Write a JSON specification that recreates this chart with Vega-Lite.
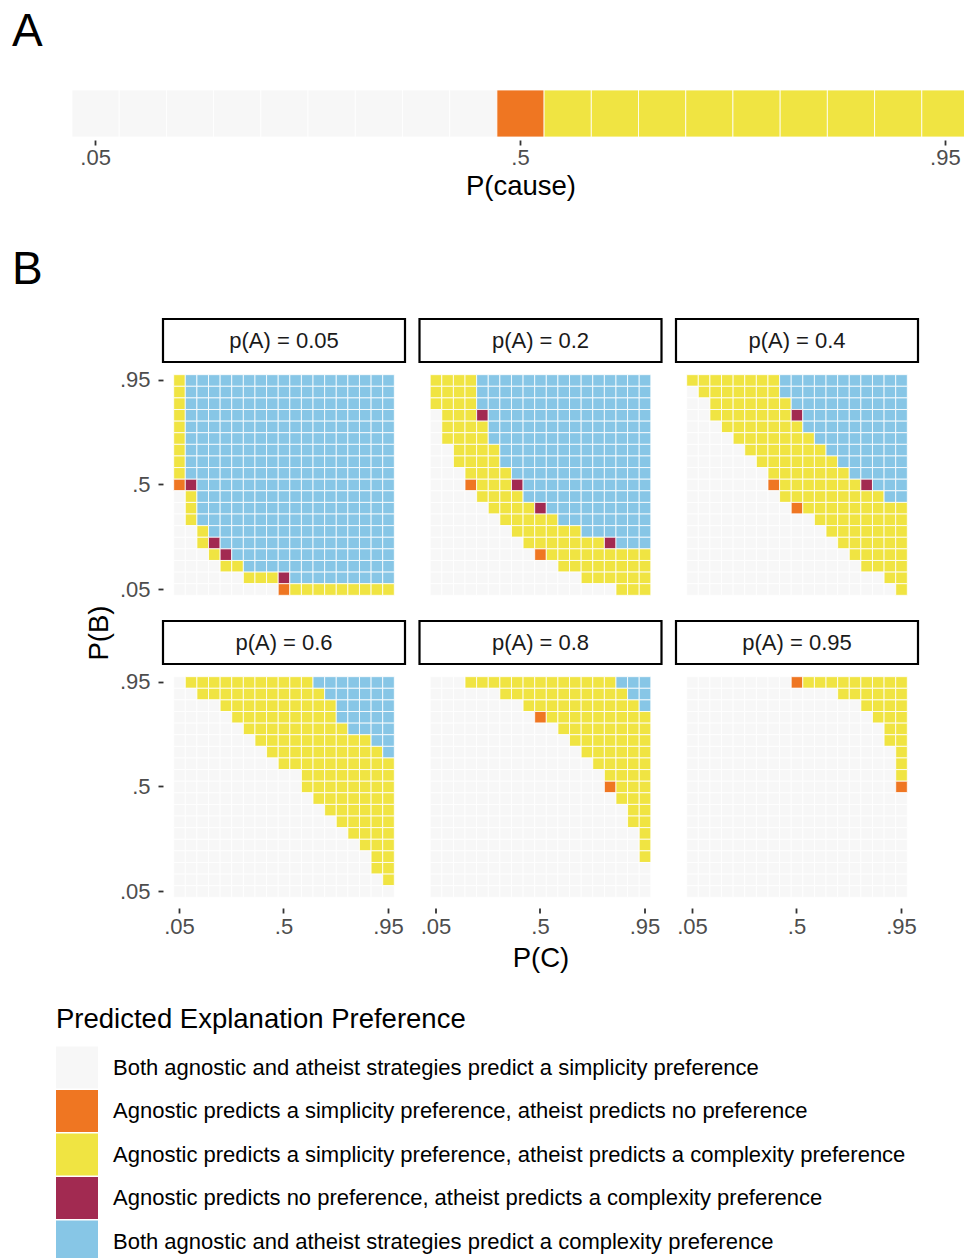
{
"$schema":"https://vega.github.io/schema/vega-lite/v6.json",
"padding":{"left":12,"top":8,"right":0,"bottom":0},
"background":"white",
"spacing":46,
"config":{
"font":"Liberation Sans",
"view":{"stroke":null},
"axis":{"labelFontSize":22,"labelColor":"#4D4D4D","tickColor":"#333333","tickWidth":1.8,"tickSize":5,"domain":false,"grid":false,"titleFontSize":27.5,"titleFontWeight":"normal","titleColor":"black","labelAngle":0},
"legend":{"symbolType":"square","symbolSize":1764,"symbolStrokeColor":"white","symbolStrokeWidth":0,"rowPadding":1.5,"labelFontSize":22,"labelColor":"black","labelOffset":15,"labelLimit":0,"titleFontSize":27.5,"titleFontWeight":"normal","titleColor":"black","titlePadding":13,"titleLimit":0}
},
"datasets":{
"pA":[{"P":0.05,"k":"G"},{"P":0.1,"k":"G"},{"P":0.15,"k":"G"},{"P":0.2,"k":"G"},{"P":0.25,"k":"G"},{"P":0.3,"k":"G"},{"P":0.35,"k":"G"},{"P":0.4,"k":"G"},{"P":0.45,"k":"G"},{"P":0.5,"k":"O"},{"P":0.55,"k":"Y"},{"P":0.6,"k":"Y"},{"P":0.65,"k":"Y"},{"P":0.7,"k":"Y"},{"P":0.75,"k":"Y"},{"P":0.8,"k":"Y"},{"P":0.85,"k":"Y"},{"P":0.9,"k":"Y"},{"P":0.95,"k":"Y"}],
"h05":[
{"B":0.95,"C":0.05,"k":"Y"},{"B":0.95,"C":0.1,"k":"B"},{"B":0.95,"C":0.15,"k":"B"},{"B":0.95,"C":0.2,"k":"B"},{"B":0.95,"C":0.25,"k":"B"},{"B":0.95,"C":0.3,"k":"B"},{"B":0.95,"C":0.35,"k":"B"},{"B":0.95,"C":0.4,"k":"B"},{"B":0.95,"C":0.45,"k":"B"},{"B":0.95,"C":0.5,"k":"B"},{"B":0.95,"C":0.55,"k":"B"},{"B":0.95,"C":0.6,"k":"B"},{"B":0.95,"C":0.65,"k":"B"},{"B":0.95,"C":0.7,"k":"B"},{"B":0.95,"C":0.75,"k":"B"},{"B":0.95,"C":0.8,"k":"B"},{"B":0.95,"C":0.85,"k":"B"},{"B":0.95,"C":0.9,"k":"B"},{"B":0.95,"C":0.95,"k":"B"},
{"B":0.9,"C":0.05,"k":"Y"},{"B":0.9,"C":0.1,"k":"B"},{"B":0.9,"C":0.15,"k":"B"},{"B":0.9,"C":0.2,"k":"B"},{"B":0.9,"C":0.25,"k":"B"},{"B":0.9,"C":0.3,"k":"B"},{"B":0.9,"C":0.35,"k":"B"},{"B":0.9,"C":0.4,"k":"B"},{"B":0.9,"C":0.45,"k":"B"},{"B":0.9,"C":0.5,"k":"B"},{"B":0.9,"C":0.55,"k":"B"},{"B":0.9,"C":0.6,"k":"B"},{"B":0.9,"C":0.65,"k":"B"},{"B":0.9,"C":0.7,"k":"B"},{"B":0.9,"C":0.75,"k":"B"},{"B":0.9,"C":0.8,"k":"B"},{"B":0.9,"C":0.85,"k":"B"},{"B":0.9,"C":0.9,"k":"B"},{"B":0.9,"C":0.95,"k":"B"},
{"B":0.85,"C":0.05,"k":"Y"},{"B":0.85,"C":0.1,"k":"B"},{"B":0.85,"C":0.15,"k":"B"},{"B":0.85,"C":0.2,"k":"B"},{"B":0.85,"C":0.25,"k":"B"},{"B":0.85,"C":0.3,"k":"B"},{"B":0.85,"C":0.35,"k":"B"},{"B":0.85,"C":0.4,"k":"B"},{"B":0.85,"C":0.45,"k":"B"},{"B":0.85,"C":0.5,"k":"B"},{"B":0.85,"C":0.55,"k":"B"},{"B":0.85,"C":0.6,"k":"B"},{"B":0.85,"C":0.65,"k":"B"},{"B":0.85,"C":0.7,"k":"B"},{"B":0.85,"C":0.75,"k":"B"},{"B":0.85,"C":0.8,"k":"B"},{"B":0.85,"C":0.85,"k":"B"},{"B":0.85,"C":0.9,"k":"B"},{"B":0.85,"C":0.95,"k":"B"},
{"B":0.8,"C":0.05,"k":"Y"},{"B":0.8,"C":0.1,"k":"B"},{"B":0.8,"C":0.15,"k":"B"},{"B":0.8,"C":0.2,"k":"B"},{"B":0.8,"C":0.25,"k":"B"},{"B":0.8,"C":0.3,"k":"B"},{"B":0.8,"C":0.35,"k":"B"},{"B":0.8,"C":0.4,"k":"B"},{"B":0.8,"C":0.45,"k":"B"},{"B":0.8,"C":0.5,"k":"B"},{"B":0.8,"C":0.55,"k":"B"},{"B":0.8,"C":0.6,"k":"B"},{"B":0.8,"C":0.65,"k":"B"},{"B":0.8,"C":0.7,"k":"B"},{"B":0.8,"C":0.75,"k":"B"},{"B":0.8,"C":0.8,"k":"B"},{"B":0.8,"C":0.85,"k":"B"},{"B":0.8,"C":0.9,"k":"B"},{"B":0.8,"C":0.95,"k":"B"},
{"B":0.75,"C":0.05,"k":"Y"},{"B":0.75,"C":0.1,"k":"B"},{"B":0.75,"C":0.15,"k":"B"},{"B":0.75,"C":0.2,"k":"B"},{"B":0.75,"C":0.25,"k":"B"},{"B":0.75,"C":0.3,"k":"B"},{"B":0.75,"C":0.35,"k":"B"},{"B":0.75,"C":0.4,"k":"B"},{"B":0.75,"C":0.45,"k":"B"},{"B":0.75,"C":0.5,"k":"B"},{"B":0.75,"C":0.55,"k":"B"},{"B":0.75,"C":0.6,"k":"B"},{"B":0.75,"C":0.65,"k":"B"},{"B":0.75,"C":0.7,"k":"B"},{"B":0.75,"C":0.75,"k":"B"},{"B":0.75,"C":0.8,"k":"B"},{"B":0.75,"C":0.85,"k":"B"},{"B":0.75,"C":0.9,"k":"B"},{"B":0.75,"C":0.95,"k":"B"},
{"B":0.7,"C":0.05,"k":"Y"},{"B":0.7,"C":0.1,"k":"B"},{"B":0.7,"C":0.15,"k":"B"},{"B":0.7,"C":0.2,"k":"B"},{"B":0.7,"C":0.25,"k":"B"},{"B":0.7,"C":0.3,"k":"B"},{"B":0.7,"C":0.35,"k":"B"},{"B":0.7,"C":0.4,"k":"B"},{"B":0.7,"C":0.45,"k":"B"},{"B":0.7,"C":0.5,"k":"B"},{"B":0.7,"C":0.55,"k":"B"},{"B":0.7,"C":0.6,"k":"B"},{"B":0.7,"C":0.65,"k":"B"},{"B":0.7,"C":0.7,"k":"B"},{"B":0.7,"C":0.75,"k":"B"},{"B":0.7,"C":0.8,"k":"B"},{"B":0.7,"C":0.85,"k":"B"},{"B":0.7,"C":0.9,"k":"B"},{"B":0.7,"C":0.95,"k":"B"},
{"B":0.65,"C":0.05,"k":"Y"},{"B":0.65,"C":0.1,"k":"B"},{"B":0.65,"C":0.15,"k":"B"},{"B":0.65,"C":0.2,"k":"B"},{"B":0.65,"C":0.25,"k":"B"},{"B":0.65,"C":0.3,"k":"B"},{"B":0.65,"C":0.35,"k":"B"},{"B":0.65,"C":0.4,"k":"B"},{"B":0.65,"C":0.45,"k":"B"},{"B":0.65,"C":0.5,"k":"B"},{"B":0.65,"C":0.55,"k":"B"},{"B":0.65,"C":0.6,"k":"B"},{"B":0.65,"C":0.65,"k":"B"},{"B":0.65,"C":0.7,"k":"B"},{"B":0.65,"C":0.75,"k":"B"},{"B":0.65,"C":0.8,"k":"B"},{"B":0.65,"C":0.85,"k":"B"},{"B":0.65,"C":0.9,"k":"B"},{"B":0.65,"C":0.95,"k":"B"},
{"B":0.6,"C":0.05,"k":"Y"},{"B":0.6,"C":0.1,"k":"B"},{"B":0.6,"C":0.15,"k":"B"},{"B":0.6,"C":0.2,"k":"B"},{"B":0.6,"C":0.25,"k":"B"},{"B":0.6,"C":0.3,"k":"B"},{"B":0.6,"C":0.35,"k":"B"},{"B":0.6,"C":0.4,"k":"B"},{"B":0.6,"C":0.45,"k":"B"},{"B":0.6,"C":0.5,"k":"B"},{"B":0.6,"C":0.55,"k":"B"},{"B":0.6,"C":0.6,"k":"B"},{"B":0.6,"C":0.65,"k":"B"},{"B":0.6,"C":0.7,"k":"B"},{"B":0.6,"C":0.75,"k":"B"},{"B":0.6,"C":0.8,"k":"B"},{"B":0.6,"C":0.85,"k":"B"},{"B":0.6,"C":0.9,"k":"B"},{"B":0.6,"C":0.95,"k":"B"},
{"B":0.55,"C":0.05,"k":"Y"},{"B":0.55,"C":0.1,"k":"B"},{"B":0.55,"C":0.15,"k":"B"},{"B":0.55,"C":0.2,"k":"B"},{"B":0.55,"C":0.25,"k":"B"},{"B":0.55,"C":0.3,"k":"B"},{"B":0.55,"C":0.35,"k":"B"},{"B":0.55,"C":0.4,"k":"B"},{"B":0.55,"C":0.45,"k":"B"},{"B":0.55,"C":0.5,"k":"B"},{"B":0.55,"C":0.55,"k":"B"},{"B":0.55,"C":0.6,"k":"B"},{"B":0.55,"C":0.65,"k":"B"},{"B":0.55,"C":0.7,"k":"B"},{"B":0.55,"C":0.75,"k":"B"},{"B":0.55,"C":0.8,"k":"B"},{"B":0.55,"C":0.85,"k":"B"},{"B":0.55,"C":0.9,"k":"B"},{"B":0.55,"C":0.95,"k":"B"},
{"B":0.5,"C":0.05,"k":"O"},{"B":0.5,"C":0.1,"k":"M"},{"B":0.5,"C":0.15,"k":"B"},{"B":0.5,"C":0.2,"k":"B"},{"B":0.5,"C":0.25,"k":"B"},{"B":0.5,"C":0.3,"k":"B"},{"B":0.5,"C":0.35,"k":"B"},{"B":0.5,"C":0.4,"k":"B"},{"B":0.5,"C":0.45,"k":"B"},{"B":0.5,"C":0.5,"k":"B"},{"B":0.5,"C":0.55,"k":"B"},{"B":0.5,"C":0.6,"k":"B"},{"B":0.5,"C":0.65,"k":"B"},{"B":0.5,"C":0.7,"k":"B"},{"B":0.5,"C":0.75,"k":"B"},{"B":0.5,"C":0.8,"k":"B"},{"B":0.5,"C":0.85,"k":"B"},{"B":0.5,"C":0.9,"k":"B"},{"B":0.5,"C":0.95,"k":"B"},
{"B":0.45,"C":0.05,"k":"G"},{"B":0.45,"C":0.1,"k":"Y"},{"B":0.45,"C":0.15,"k":"B"},{"B":0.45,"C":0.2,"k":"B"},{"B":0.45,"C":0.25,"k":"B"},{"B":0.45,"C":0.3,"k":"B"},{"B":0.45,"C":0.35,"k":"B"},{"B":0.45,"C":0.4,"k":"B"},{"B":0.45,"C":0.45,"k":"B"},{"B":0.45,"C":0.5,"k":"B"},{"B":0.45,"C":0.55,"k":"B"},{"B":0.45,"C":0.6,"k":"B"},{"B":0.45,"C":0.65,"k":"B"},{"B":0.45,"C":0.7,"k":"B"},{"B":0.45,"C":0.75,"k":"B"},{"B":0.45,"C":0.8,"k":"B"},{"B":0.45,"C":0.85,"k":"B"},{"B":0.45,"C":0.9,"k":"B"},{"B":0.45,"C":0.95,"k":"B"},
{"B":0.4,"C":0.05,"k":"G"},{"B":0.4,"C":0.1,"k":"Y"},{"B":0.4,"C":0.15,"k":"B"},{"B":0.4,"C":0.2,"k":"B"},{"B":0.4,"C":0.25,"k":"B"},{"B":0.4,"C":0.3,"k":"B"},{"B":0.4,"C":0.35,"k":"B"},{"B":0.4,"C":0.4,"k":"B"},{"B":0.4,"C":0.45,"k":"B"},{"B":0.4,"C":0.5,"k":"B"},{"B":0.4,"C":0.55,"k":"B"},{"B":0.4,"C":0.6,"k":"B"},{"B":0.4,"C":0.65,"k":"B"},{"B":0.4,"C":0.7,"k":"B"},{"B":0.4,"C":0.75,"k":"B"},{"B":0.4,"C":0.8,"k":"B"},{"B":0.4,"C":0.85,"k":"B"},{"B":0.4,"C":0.9,"k":"B"},{"B":0.4,"C":0.95,"k":"B"},
{"B":0.35,"C":0.05,"k":"G"},{"B":0.35,"C":0.1,"k":"Y"},{"B":0.35,"C":0.15,"k":"B"},{"B":0.35,"C":0.2,"k":"B"},{"B":0.35,"C":0.25,"k":"B"},{"B":0.35,"C":0.3,"k":"B"},{"B":0.35,"C":0.35,"k":"B"},{"B":0.35,"C":0.4,"k":"B"},{"B":0.35,"C":0.45,"k":"B"},{"B":0.35,"C":0.5,"k":"B"},{"B":0.35,"C":0.55,"k":"B"},{"B":0.35,"C":0.6,"k":"B"},{"B":0.35,"C":0.65,"k":"B"},{"B":0.35,"C":0.7,"k":"B"},{"B":0.35,"C":0.75,"k":"B"},{"B":0.35,"C":0.8,"k":"B"},{"B":0.35,"C":0.85,"k":"B"},{"B":0.35,"C":0.9,"k":"B"},{"B":0.35,"C":0.95,"k":"B"},
{"B":0.3,"C":0.05,"k":"G"},{"B":0.3,"C":0.1,"k":"G"},{"B":0.3,"C":0.15,"k":"Y"},{"B":0.3,"C":0.2,"k":"B"},{"B":0.3,"C":0.25,"k":"B"},{"B":0.3,"C":0.3,"k":"B"},{"B":0.3,"C":0.35,"k":"B"},{"B":0.3,"C":0.4,"k":"B"},{"B":0.3,"C":0.45,"k":"B"},{"B":0.3,"C":0.5,"k":"B"},{"B":0.3,"C":0.55,"k":"B"},{"B":0.3,"C":0.6,"k":"B"},{"B":0.3,"C":0.65,"k":"B"},{"B":0.3,"C":0.7,"k":"B"},{"B":0.3,"C":0.75,"k":"B"},{"B":0.3,"C":0.8,"k":"B"},{"B":0.3,"C":0.85,"k":"B"},{"B":0.3,"C":0.9,"k":"B"},{"B":0.3,"C":0.95,"k":"B"},
{"B":0.25,"C":0.05,"k":"G"},{"B":0.25,"C":0.1,"k":"G"},{"B":0.25,"C":0.15,"k":"Y"},{"B":0.25,"C":0.2,"k":"M"},{"B":0.25,"C":0.25,"k":"B"},{"B":0.25,"C":0.3,"k":"B"},{"B":0.25,"C":0.35,"k":"B"},{"B":0.25,"C":0.4,"k":"B"},{"B":0.25,"C":0.45,"k":"B"},{"B":0.25,"C":0.5,"k":"B"},{"B":0.25,"C":0.55,"k":"B"},{"B":0.25,"C":0.6,"k":"B"},{"B":0.25,"C":0.65,"k":"B"},{"B":0.25,"C":0.7,"k":"B"},{"B":0.25,"C":0.75,"k":"B"},{"B":0.25,"C":0.8,"k":"B"},{"B":0.25,"C":0.85,"k":"B"},{"B":0.25,"C":0.9,"k":"B"},{"B":0.25,"C":0.95,"k":"B"},
{"B":0.2,"C":0.05,"k":"G"},{"B":0.2,"C":0.1,"k":"G"},{"B":0.2,"C":0.15,"k":"G"},{"B":0.2,"C":0.2,"k":"Y"},{"B":0.2,"C":0.25,"k":"M"},{"B":0.2,"C":0.3,"k":"B"},{"B":0.2,"C":0.35,"k":"B"},{"B":0.2,"C":0.4,"k":"B"},{"B":0.2,"C":0.45,"k":"B"},{"B":0.2,"C":0.5,"k":"B"},{"B":0.2,"C":0.55,"k":"B"},{"B":0.2,"C":0.6,"k":"B"},{"B":0.2,"C":0.65,"k":"B"},{"B":0.2,"C":0.7,"k":"B"},{"B":0.2,"C":0.75,"k":"B"},{"B":0.2,"C":0.8,"k":"B"},{"B":0.2,"C":0.85,"k":"B"},{"B":0.2,"C":0.9,"k":"B"},{"B":0.2,"C":0.95,"k":"B"},
{"B":0.15,"C":0.05,"k":"G"},{"B":0.15,"C":0.1,"k":"G"},{"B":0.15,"C":0.15,"k":"G"},{"B":0.15,"C":0.2,"k":"G"},{"B":0.15,"C":0.25,"k":"Y"},{"B":0.15,"C":0.3,"k":"Y"},{"B":0.15,"C":0.35,"k":"B"},{"B":0.15,"C":0.4,"k":"B"},{"B":0.15,"C":0.45,"k":"B"},{"B":0.15,"C":0.5,"k":"B"},{"B":0.15,"C":0.55,"k":"B"},{"B":0.15,"C":0.6,"k":"B"},{"B":0.15,"C":0.65,"k":"B"},{"B":0.15,"C":0.7,"k":"B"},{"B":0.15,"C":0.75,"k":"B"},{"B":0.15,"C":0.8,"k":"B"},{"B":0.15,"C":0.85,"k":"B"},{"B":0.15,"C":0.9,"k":"B"},{"B":0.15,"C":0.95,"k":"B"},
{"B":0.1,"C":0.05,"k":"G"},{"B":0.1,"C":0.1,"k":"G"},{"B":0.1,"C":0.15,"k":"G"},{"B":0.1,"C":0.2,"k":"G"},{"B":0.1,"C":0.25,"k":"G"},{"B":0.1,"C":0.3,"k":"G"},{"B":0.1,"C":0.35,"k":"Y"},{"B":0.1,"C":0.4,"k":"Y"},{"B":0.1,"C":0.45,"k":"Y"},{"B":0.1,"C":0.5,"k":"M"},{"B":0.1,"C":0.55,"k":"B"},{"B":0.1,"C":0.6,"k":"B"},{"B":0.1,"C":0.65,"k":"B"},{"B":0.1,"C":0.7,"k":"B"},{"B":0.1,"C":0.75,"k":"B"},{"B":0.1,"C":0.8,"k":"B"},{"B":0.1,"C":0.85,"k":"B"},{"B":0.1,"C":0.9,"k":"B"},{"B":0.1,"C":0.95,"k":"B"},
{"B":0.05,"C":0.05,"k":"G"},{"B":0.05,"C":0.1,"k":"G"},{"B":0.05,"C":0.15,"k":"G"},{"B":0.05,"C":0.2,"k":"G"},{"B":0.05,"C":0.25,"k":"G"},{"B":0.05,"C":0.3,"k":"G"},{"B":0.05,"C":0.35,"k":"G"},{"B":0.05,"C":0.4,"k":"G"},{"B":0.05,"C":0.45,"k":"G"},{"B":0.05,"C":0.5,"k":"O"},{"B":0.05,"C":0.55,"k":"Y"},{"B":0.05,"C":0.6,"k":"Y"},{"B":0.05,"C":0.65,"k":"Y"},{"B":0.05,"C":0.7,"k":"Y"},{"B":0.05,"C":0.75,"k":"Y"},{"B":0.05,"C":0.8,"k":"Y"},{"B":0.05,"C":0.85,"k":"Y"},{"B":0.05,"C":0.9,"k":"Y"},{"B":0.05,"C":0.95,"k":"Y"}
],
"h20":[
{"B":0.95,"C":0.05,"k":"Y"},{"B":0.95,"C":0.1,"k":"Y"},{"B":0.95,"C":0.15,"k":"Y"},{"B":0.95,"C":0.2,"k":"Y"},{"B":0.95,"C":0.25,"k":"B"},{"B":0.95,"C":0.3,"k":"B"},{"B":0.95,"C":0.35,"k":"B"},{"B":0.95,"C":0.4,"k":"B"},{"B":0.95,"C":0.45,"k":"B"},{"B":0.95,"C":0.5,"k":"B"},{"B":0.95,"C":0.55,"k":"B"},{"B":0.95,"C":0.6,"k":"B"},{"B":0.95,"C":0.65,"k":"B"},{"B":0.95,"C":0.7,"k":"B"},{"B":0.95,"C":0.75,"k":"B"},{"B":0.95,"C":0.8,"k":"B"},{"B":0.95,"C":0.85,"k":"B"},{"B":0.95,"C":0.9,"k":"B"},{"B":0.95,"C":0.95,"k":"B"},
{"B":0.9,"C":0.05,"k":"Y"},{"B":0.9,"C":0.1,"k":"Y"},{"B":0.9,"C":0.15,"k":"Y"},{"B":0.9,"C":0.2,"k":"Y"},{"B":0.9,"C":0.25,"k":"B"},{"B":0.9,"C":0.3,"k":"B"},{"B":0.9,"C":0.35,"k":"B"},{"B":0.9,"C":0.4,"k":"B"},{"B":0.9,"C":0.45,"k":"B"},{"B":0.9,"C":0.5,"k":"B"},{"B":0.9,"C":0.55,"k":"B"},{"B":0.9,"C":0.6,"k":"B"},{"B":0.9,"C":0.65,"k":"B"},{"B":0.9,"C":0.7,"k":"B"},{"B":0.9,"C":0.75,"k":"B"},{"B":0.9,"C":0.8,"k":"B"},{"B":0.9,"C":0.85,"k":"B"},{"B":0.9,"C":0.9,"k":"B"},{"B":0.9,"C":0.95,"k":"B"},
{"B":0.85,"C":0.05,"k":"Y"},{"B":0.85,"C":0.1,"k":"Y"},{"B":0.85,"C":0.15,"k":"Y"},{"B":0.85,"C":0.2,"k":"Y"},{"B":0.85,"C":0.25,"k":"B"},{"B":0.85,"C":0.3,"k":"B"},{"B":0.85,"C":0.35,"k":"B"},{"B":0.85,"C":0.4,"k":"B"},{"B":0.85,"C":0.45,"k":"B"},{"B":0.85,"C":0.5,"k":"B"},{"B":0.85,"C":0.55,"k":"B"},{"B":0.85,"C":0.6,"k":"B"},{"B":0.85,"C":0.65,"k":"B"},{"B":0.85,"C":0.7,"k":"B"},{"B":0.85,"C":0.75,"k":"B"},{"B":0.85,"C":0.8,"k":"B"},{"B":0.85,"C":0.85,"k":"B"},{"B":0.85,"C":0.9,"k":"B"},{"B":0.85,"C":0.95,"k":"B"},
{"B":0.8,"C":0.05,"k":"G"},{"B":0.8,"C":0.1,"k":"Y"},{"B":0.8,"C":0.15,"k":"Y"},{"B":0.8,"C":0.2,"k":"Y"},{"B":0.8,"C":0.25,"k":"M"},{"B":0.8,"C":0.3,"k":"B"},{"B":0.8,"C":0.35,"k":"B"},{"B":0.8,"C":0.4,"k":"B"},{"B":0.8,"C":0.45,"k":"B"},{"B":0.8,"C":0.5,"k":"B"},{"B":0.8,"C":0.55,"k":"B"},{"B":0.8,"C":0.6,"k":"B"},{"B":0.8,"C":0.65,"k":"B"},{"B":0.8,"C":0.7,"k":"B"},{"B":0.8,"C":0.75,"k":"B"},{"B":0.8,"C":0.8,"k":"B"},{"B":0.8,"C":0.85,"k":"B"},{"B":0.8,"C":0.9,"k":"B"},{"B":0.8,"C":0.95,"k":"B"},
{"B":0.75,"C":0.05,"k":"G"},{"B":0.75,"C":0.1,"k":"Y"},{"B":0.75,"C":0.15,"k":"Y"},{"B":0.75,"C":0.2,"k":"Y"},{"B":0.75,"C":0.25,"k":"Y"},{"B":0.75,"C":0.3,"k":"B"},{"B":0.75,"C":0.35,"k":"B"},{"B":0.75,"C":0.4,"k":"B"},{"B":0.75,"C":0.45,"k":"B"},{"B":0.75,"C":0.5,"k":"B"},{"B":0.75,"C":0.55,"k":"B"},{"B":0.75,"C":0.6,"k":"B"},{"B":0.75,"C":0.65,"k":"B"},{"B":0.75,"C":0.7,"k":"B"},{"B":0.75,"C":0.75,"k":"B"},{"B":0.75,"C":0.8,"k":"B"},{"B":0.75,"C":0.85,"k":"B"},{"B":0.75,"C":0.9,"k":"B"},{"B":0.75,"C":0.95,"k":"B"},
{"B":0.7,"C":0.05,"k":"G"},{"B":0.7,"C":0.1,"k":"Y"},{"B":0.7,"C":0.15,"k":"Y"},{"B":0.7,"C":0.2,"k":"Y"},{"B":0.7,"C":0.25,"k":"Y"},{"B":0.7,"C":0.3,"k":"B"},{"B":0.7,"C":0.35,"k":"B"},{"B":0.7,"C":0.4,"k":"B"},{"B":0.7,"C":0.45,"k":"B"},{"B":0.7,"C":0.5,"k":"B"},{"B":0.7,"C":0.55,"k":"B"},{"B":0.7,"C":0.6,"k":"B"},{"B":0.7,"C":0.65,"k":"B"},{"B":0.7,"C":0.7,"k":"B"},{"B":0.7,"C":0.75,"k":"B"},{"B":0.7,"C":0.8,"k":"B"},{"B":0.7,"C":0.85,"k":"B"},{"B":0.7,"C":0.9,"k":"B"},{"B":0.7,"C":0.95,"k":"B"},
{"B":0.65,"C":0.05,"k":"G"},{"B":0.65,"C":0.1,"k":"G"},{"B":0.65,"C":0.15,"k":"Y"},{"B":0.65,"C":0.2,"k":"Y"},{"B":0.65,"C":0.25,"k":"Y"},{"B":0.65,"C":0.3,"k":"Y"},{"B":0.65,"C":0.35,"k":"B"},{"B":0.65,"C":0.4,"k":"B"},{"B":0.65,"C":0.45,"k":"B"},{"B":0.65,"C":0.5,"k":"B"},{"B":0.65,"C":0.55,"k":"B"},{"B":0.65,"C":0.6,"k":"B"},{"B":0.65,"C":0.65,"k":"B"},{"B":0.65,"C":0.7,"k":"B"},{"B":0.65,"C":0.75,"k":"B"},{"B":0.65,"C":0.8,"k":"B"},{"B":0.65,"C":0.85,"k":"B"},{"B":0.65,"C":0.9,"k":"B"},{"B":0.65,"C":0.95,"k":"B"},
{"B":0.6,"C":0.05,"k":"G"},{"B":0.6,"C":0.1,"k":"G"},{"B":0.6,"C":0.15,"k":"Y"},{"B":0.6,"C":0.2,"k":"Y"},{"B":0.6,"C":0.25,"k":"Y"},{"B":0.6,"C":0.3,"k":"Y"},{"B":0.6,"C":0.35,"k":"B"},{"B":0.6,"C":0.4,"k":"B"},{"B":0.6,"C":0.45,"k":"B"},{"B":0.6,"C":0.5,"k":"B"},{"B":0.6,"C":0.55,"k":"B"},{"B":0.6,"C":0.6,"k":"B"},{"B":0.6,"C":0.65,"k":"B"},{"B":0.6,"C":0.7,"k":"B"},{"B":0.6,"C":0.75,"k":"B"},{"B":0.6,"C":0.8,"k":"B"},{"B":0.6,"C":0.85,"k":"B"},{"B":0.6,"C":0.9,"k":"B"},{"B":0.6,"C":0.95,"k":"B"},
{"B":0.55,"C":0.05,"k":"G"},{"B":0.55,"C":0.1,"k":"G"},{"B":0.55,"C":0.15,"k":"G"},{"B":0.55,"C":0.2,"k":"Y"},{"B":0.55,"C":0.25,"k":"Y"},{"B":0.55,"C":0.3,"k":"Y"},{"B":0.55,"C":0.35,"k":"Y"},{"B":0.55,"C":0.4,"k":"B"},{"B":0.55,"C":0.45,"k":"B"},{"B":0.55,"C":0.5,"k":"B"},{"B":0.55,"C":0.55,"k":"B"},{"B":0.55,"C":0.6,"k":"B"},{"B":0.55,"C":0.65,"k":"B"},{"B":0.55,"C":0.7,"k":"B"},{"B":0.55,"C":0.75,"k":"B"},{"B":0.55,"C":0.8,"k":"B"},{"B":0.55,"C":0.85,"k":"B"},{"B":0.55,"C":0.9,"k":"B"},{"B":0.55,"C":0.95,"k":"B"},
{"B":0.5,"C":0.05,"k":"G"},{"B":0.5,"C":0.1,"k":"G"},{"B":0.5,"C":0.15,"k":"G"},{"B":0.5,"C":0.2,"k":"O"},{"B":0.5,"C":0.25,"k":"Y"},{"B":0.5,"C":0.3,"k":"Y"},{"B":0.5,"C":0.35,"k":"Y"},{"B":0.5,"C":0.4,"k":"M"},{"B":0.5,"C":0.45,"k":"B"},{"B":0.5,"C":0.5,"k":"B"},{"B":0.5,"C":0.55,"k":"B"},{"B":0.5,"C":0.6,"k":"B"},{"B":0.5,"C":0.65,"k":"B"},{"B":0.5,"C":0.7,"k":"B"},{"B":0.5,"C":0.75,"k":"B"},{"B":0.5,"C":0.8,"k":"B"},{"B":0.5,"C":0.85,"k":"B"},{"B":0.5,"C":0.9,"k":"B"},{"B":0.5,"C":0.95,"k":"B"},
{"B":0.45,"C":0.05,"k":"G"},{"B":0.45,"C":0.1,"k":"G"},{"B":0.45,"C":0.15,"k":"G"},{"B":0.45,"C":0.2,"k":"G"},{"B":0.45,"C":0.25,"k":"Y"},{"B":0.45,"C":0.3,"k":"Y"},{"B":0.45,"C":0.35,"k":"Y"},{"B":0.45,"C":0.4,"k":"Y"},{"B":0.45,"C":0.45,"k":"B"},{"B":0.45,"C":0.5,"k":"B"},{"B":0.45,"C":0.55,"k":"B"},{"B":0.45,"C":0.6,"k":"B"},{"B":0.45,"C":0.65,"k":"B"},{"B":0.45,"C":0.7,"k":"B"},{"B":0.45,"C":0.75,"k":"B"},{"B":0.45,"C":0.8,"k":"B"},{"B":0.45,"C":0.85,"k":"B"},{"B":0.45,"C":0.9,"k":"B"},{"B":0.45,"C":0.95,"k":"B"},
{"B":0.4,"C":0.05,"k":"G"},{"B":0.4,"C":0.1,"k":"G"},{"B":0.4,"C":0.15,"k":"G"},{"B":0.4,"C":0.2,"k":"G"},{"B":0.4,"C":0.25,"k":"G"},{"B":0.4,"C":0.3,"k":"Y"},{"B":0.4,"C":0.35,"k":"Y"},{"B":0.4,"C":0.4,"k":"Y"},{"B":0.4,"C":0.45,"k":"Y"},{"B":0.4,"C":0.5,"k":"M"},{"B":0.4,"C":0.55,"k":"B"},{"B":0.4,"C":0.6,"k":"B"},{"B":0.4,"C":0.65,"k":"B"},{"B":0.4,"C":0.7,"k":"B"},{"B":0.4,"C":0.75,"k":"B"},{"B":0.4,"C":0.8,"k":"B"},{"B":0.4,"C":0.85,"k":"B"},{"B":0.4,"C":0.9,"k":"B"},{"B":0.4,"C":0.95,"k":"B"},
{"B":0.35,"C":0.05,"k":"G"},{"B":0.35,"C":0.1,"k":"G"},{"B":0.35,"C":0.15,"k":"G"},{"B":0.35,"C":0.2,"k":"G"},{"B":0.35,"C":0.25,"k":"G"},{"B":0.35,"C":0.3,"k":"G"},{"B":0.35,"C":0.35,"k":"Y"},{"B":0.35,"C":0.4,"k":"Y"},{"B":0.35,"C":0.45,"k":"Y"},{"B":0.35,"C":0.5,"k":"Y"},{"B":0.35,"C":0.55,"k":"Y"},{"B":0.35,"C":0.6,"k":"B"},{"B":0.35,"C":0.65,"k":"B"},{"B":0.35,"C":0.7,"k":"B"},{"B":0.35,"C":0.75,"k":"B"},{"B":0.35,"C":0.8,"k":"B"},{"B":0.35,"C":0.85,"k":"B"},{"B":0.35,"C":0.9,"k":"B"},{"B":0.35,"C":0.95,"k":"B"},
{"B":0.3,"C":0.05,"k":"G"},{"B":0.3,"C":0.1,"k":"G"},{"B":0.3,"C":0.15,"k":"G"},{"B":0.3,"C":0.2,"k":"G"},{"B":0.3,"C":0.25,"k":"G"},{"B":0.3,"C":0.3,"k":"G"},{"B":0.3,"C":0.35,"k":"G"},{"B":0.3,"C":0.4,"k":"Y"},{"B":0.3,"C":0.45,"k":"Y"},{"B":0.3,"C":0.5,"k":"Y"},{"B":0.3,"C":0.55,"k":"Y"},{"B":0.3,"C":0.6,"k":"Y"},{"B":0.3,"C":0.65,"k":"Y"},{"B":0.3,"C":0.7,"k":"B"},{"B":0.3,"C":0.75,"k":"B"},{"B":0.3,"C":0.8,"k":"B"},{"B":0.3,"C":0.85,"k":"B"},{"B":0.3,"C":0.9,"k":"B"},{"B":0.3,"C":0.95,"k":"B"},
{"B":0.25,"C":0.05,"k":"G"},{"B":0.25,"C":0.1,"k":"G"},{"B":0.25,"C":0.15,"k":"G"},{"B":0.25,"C":0.2,"k":"G"},{"B":0.25,"C":0.25,"k":"G"},{"B":0.25,"C":0.3,"k":"G"},{"B":0.25,"C":0.35,"k":"G"},{"B":0.25,"C":0.4,"k":"G"},{"B":0.25,"C":0.45,"k":"Y"},{"B":0.25,"C":0.5,"k":"Y"},{"B":0.25,"C":0.55,"k":"Y"},{"B":0.25,"C":0.6,"k":"Y"},{"B":0.25,"C":0.65,"k":"Y"},{"B":0.25,"C":0.7,"k":"Y"},{"B":0.25,"C":0.75,"k":"Y"},{"B":0.25,"C":0.8,"k":"M"},{"B":0.25,"C":0.85,"k":"B"},{"B":0.25,"C":0.9,"k":"B"},{"B":0.25,"C":0.95,"k":"B"},
{"B":0.2,"C":0.05,"k":"G"},{"B":0.2,"C":0.1,"k":"G"},{"B":0.2,"C":0.15,"k":"G"},{"B":0.2,"C":0.2,"k":"G"},{"B":0.2,"C":0.25,"k":"G"},{"B":0.2,"C":0.3,"k":"G"},{"B":0.2,"C":0.35,"k":"G"},{"B":0.2,"C":0.4,"k":"G"},{"B":0.2,"C":0.45,"k":"G"},{"B":0.2,"C":0.5,"k":"O"},{"B":0.2,"C":0.55,"k":"Y"},{"B":0.2,"C":0.6,"k":"Y"},{"B":0.2,"C":0.65,"k":"Y"},{"B":0.2,"C":0.7,"k":"Y"},{"B":0.2,"C":0.75,"k":"Y"},{"B":0.2,"C":0.8,"k":"Y"},{"B":0.2,"C":0.85,"k":"Y"},{"B":0.2,"C":0.9,"k":"Y"},{"B":0.2,"C":0.95,"k":"Y"},
{"B":0.15,"C":0.05,"k":"G"},{"B":0.15,"C":0.1,"k":"G"},{"B":0.15,"C":0.15,"k":"G"},{"B":0.15,"C":0.2,"k":"G"},{"B":0.15,"C":0.25,"k":"G"},{"B":0.15,"C":0.3,"k":"G"},{"B":0.15,"C":0.35,"k":"G"},{"B":0.15,"C":0.4,"k":"G"},{"B":0.15,"C":0.45,"k":"G"},{"B":0.15,"C":0.5,"k":"G"},{"B":0.15,"C":0.55,"k":"G"},{"B":0.15,"C":0.6,"k":"Y"},{"B":0.15,"C":0.65,"k":"Y"},{"B":0.15,"C":0.7,"k":"Y"},{"B":0.15,"C":0.75,"k":"Y"},{"B":0.15,"C":0.8,"k":"Y"},{"B":0.15,"C":0.85,"k":"Y"},{"B":0.15,"C":0.9,"k":"Y"},{"B":0.15,"C":0.95,"k":"Y"},
{"B":0.1,"C":0.05,"k":"G"},{"B":0.1,"C":0.1,"k":"G"},{"B":0.1,"C":0.15,"k":"G"},{"B":0.1,"C":0.2,"k":"G"},{"B":0.1,"C":0.25,"k":"G"},{"B":0.1,"C":0.3,"k":"G"},{"B":0.1,"C":0.35,"k":"G"},{"B":0.1,"C":0.4,"k":"G"},{"B":0.1,"C":0.45,"k":"G"},{"B":0.1,"C":0.5,"k":"G"},{"B":0.1,"C":0.55,"k":"G"},{"B":0.1,"C":0.6,"k":"G"},{"B":0.1,"C":0.65,"k":"G"},{"B":0.1,"C":0.7,"k":"Y"},{"B":0.1,"C":0.75,"k":"Y"},{"B":0.1,"C":0.8,"k":"Y"},{"B":0.1,"C":0.85,"k":"Y"},{"B":0.1,"C":0.9,"k":"Y"},{"B":0.1,"C":0.95,"k":"Y"},
{"B":0.05,"C":0.05,"k":"G"},{"B":0.05,"C":0.1,"k":"G"},{"B":0.05,"C":0.15,"k":"G"},{"B":0.05,"C":0.2,"k":"G"},{"B":0.05,"C":0.25,"k":"G"},{"B":0.05,"C":0.3,"k":"G"},{"B":0.05,"C":0.35,"k":"G"},{"B":0.05,"C":0.4,"k":"G"},{"B":0.05,"C":0.45,"k":"G"},{"B":0.05,"C":0.5,"k":"G"},{"B":0.05,"C":0.55,"k":"G"},{"B":0.05,"C":0.6,"k":"G"},{"B":0.05,"C":0.65,"k":"G"},{"B":0.05,"C":0.7,"k":"G"},{"B":0.05,"C":0.75,"k":"G"},{"B":0.05,"C":0.8,"k":"G"},{"B":0.05,"C":0.85,"k":"Y"},{"B":0.05,"C":0.9,"k":"Y"},{"B":0.05,"C":0.95,"k":"Y"}
],
"h40":[
{"B":0.95,"C":0.05,"k":"Y"},{"B":0.95,"C":0.1,"k":"Y"},{"B":0.95,"C":0.15,"k":"Y"},{"B":0.95,"C":0.2,"k":"Y"},{"B":0.95,"C":0.25,"k":"Y"},{"B":0.95,"C":0.3,"k":"Y"},{"B":0.95,"C":0.35,"k":"Y"},{"B":0.95,"C":0.4,"k":"Y"},{"B":0.95,"C":0.45,"k":"B"},{"B":0.95,"C":0.5,"k":"B"},{"B":0.95,"C":0.55,"k":"B"},{"B":0.95,"C":0.6,"k":"B"},{"B":0.95,"C":0.65,"k":"B"},{"B":0.95,"C":0.7,"k":"B"},{"B":0.95,"C":0.75,"k":"B"},{"B":0.95,"C":0.8,"k":"B"},{"B":0.95,"C":0.85,"k":"B"},{"B":0.95,"C":0.9,"k":"B"},{"B":0.95,"C":0.95,"k":"B"},
{"B":0.9,"C":0.05,"k":"G"},{"B":0.9,"C":0.1,"k":"Y"},{"B":0.9,"C":0.15,"k":"Y"},{"B":0.9,"C":0.2,"k":"Y"},{"B":0.9,"C":0.25,"k":"Y"},{"B":0.9,"C":0.3,"k":"Y"},{"B":0.9,"C":0.35,"k":"Y"},{"B":0.9,"C":0.4,"k":"Y"},{"B":0.9,"C":0.45,"k":"B"},{"B":0.9,"C":0.5,"k":"B"},{"B":0.9,"C":0.55,"k":"B"},{"B":0.9,"C":0.6,"k":"B"},{"B":0.9,"C":0.65,"k":"B"},{"B":0.9,"C":0.7,"k":"B"},{"B":0.9,"C":0.75,"k":"B"},{"B":0.9,"C":0.8,"k":"B"},{"B":0.9,"C":0.85,"k":"B"},{"B":0.9,"C":0.9,"k":"B"},{"B":0.9,"C":0.95,"k":"B"},
{"B":0.85,"C":0.05,"k":"G"},{"B":0.85,"C":0.1,"k":"G"},{"B":0.85,"C":0.15,"k":"Y"},{"B":0.85,"C":0.2,"k":"Y"},{"B":0.85,"C":0.25,"k":"Y"},{"B":0.85,"C":0.3,"k":"Y"},{"B":0.85,"C":0.35,"k":"Y"},{"B":0.85,"C":0.4,"k":"Y"},{"B":0.85,"C":0.45,"k":"Y"},{"B":0.85,"C":0.5,"k":"B"},{"B":0.85,"C":0.55,"k":"B"},{"B":0.85,"C":0.6,"k":"B"},{"B":0.85,"C":0.65,"k":"B"},{"B":0.85,"C":0.7,"k":"B"},{"B":0.85,"C":0.75,"k":"B"},{"B":0.85,"C":0.8,"k":"B"},{"B":0.85,"C":0.85,"k":"B"},{"B":0.85,"C":0.9,"k":"B"},{"B":0.85,"C":0.95,"k":"B"},
{"B":0.8,"C":0.05,"k":"G"},{"B":0.8,"C":0.1,"k":"G"},{"B":0.8,"C":0.15,"k":"Y"},{"B":0.8,"C":0.2,"k":"Y"},{"B":0.8,"C":0.25,"k":"Y"},{"B":0.8,"C":0.3,"k":"Y"},{"B":0.8,"C":0.35,"k":"Y"},{"B":0.8,"C":0.4,"k":"Y"},{"B":0.8,"C":0.45,"k":"Y"},{"B":0.8,"C":0.5,"k":"M"},{"B":0.8,"C":0.55,"k":"B"},{"B":0.8,"C":0.6,"k":"B"},{"B":0.8,"C":0.65,"k":"B"},{"B":0.8,"C":0.7,"k":"B"},{"B":0.8,"C":0.75,"k":"B"},{"B":0.8,"C":0.8,"k":"B"},{"B":0.8,"C":0.85,"k":"B"},{"B":0.8,"C":0.9,"k":"B"},{"B":0.8,"C":0.95,"k":"B"},
{"B":0.75,"C":0.05,"k":"G"},{"B":0.75,"C":0.1,"k":"G"},{"B":0.75,"C":0.15,"k":"G"},{"B":0.75,"C":0.2,"k":"Y"},{"B":0.75,"C":0.25,"k":"Y"},{"B":0.75,"C":0.3,"k":"Y"},{"B":0.75,"C":0.35,"k":"Y"},{"B":0.75,"C":0.4,"k":"Y"},{"B":0.75,"C":0.45,"k":"Y"},{"B":0.75,"C":0.5,"k":"Y"},{"B":0.75,"C":0.55,"k":"B"},{"B":0.75,"C":0.6,"k":"B"},{"B":0.75,"C":0.65,"k":"B"},{"B":0.75,"C":0.7,"k":"B"},{"B":0.75,"C":0.75,"k":"B"},{"B":0.75,"C":0.8,"k":"B"},{"B":0.75,"C":0.85,"k":"B"},{"B":0.75,"C":0.9,"k":"B"},{"B":0.75,"C":0.95,"k":"B"},
{"B":0.7,"C":0.05,"k":"G"},{"B":0.7,"C":0.1,"k":"G"},{"B":0.7,"C":0.15,"k":"G"},{"B":0.7,"C":0.2,"k":"G"},{"B":0.7,"C":0.25,"k":"Y"},{"B":0.7,"C":0.3,"k":"Y"},{"B":0.7,"C":0.35,"k":"Y"},{"B":0.7,"C":0.4,"k":"Y"},{"B":0.7,"C":0.45,"k":"Y"},{"B":0.7,"C":0.5,"k":"Y"},{"B":0.7,"C":0.55,"k":"Y"},{"B":0.7,"C":0.6,"k":"B"},{"B":0.7,"C":0.65,"k":"B"},{"B":0.7,"C":0.7,"k":"B"},{"B":0.7,"C":0.75,"k":"B"},{"B":0.7,"C":0.8,"k":"B"},{"B":0.7,"C":0.85,"k":"B"},{"B":0.7,"C":0.9,"k":"B"},{"B":0.7,"C":0.95,"k":"B"},
{"B":0.65,"C":0.05,"k":"G"},{"B":0.65,"C":0.1,"k":"G"},{"B":0.65,"C":0.15,"k":"G"},{"B":0.65,"C":0.2,"k":"G"},{"B":0.65,"C":0.25,"k":"G"},{"B":0.65,"C":0.3,"k":"Y"},{"B":0.65,"C":0.35,"k":"Y"},{"B":0.65,"C":0.4,"k":"Y"},{"B":0.65,"C":0.45,"k":"Y"},{"B":0.65,"C":0.5,"k":"Y"},{"B":0.65,"C":0.55,"k":"Y"},{"B":0.65,"C":0.6,"k":"Y"},{"B":0.65,"C":0.65,"k":"B"},{"B":0.65,"C":0.7,"k":"B"},{"B":0.65,"C":0.75,"k":"B"},{"B":0.65,"C":0.8,"k":"B"},{"B":0.65,"C":0.85,"k":"B"},{"B":0.65,"C":0.9,"k":"B"},{"B":0.65,"C":0.95,"k":"B"},
{"B":0.6,"C":0.05,"k":"G"},{"B":0.6,"C":0.1,"k":"G"},{"B":0.6,"C":0.15,"k":"G"},{"B":0.6,"C":0.2,"k":"G"},{"B":0.6,"C":0.25,"k":"G"},{"B":0.6,"C":0.3,"k":"G"},{"B":0.6,"C":0.35,"k":"Y"},{"B":0.6,"C":0.4,"k":"Y"},{"B":0.6,"C":0.45,"k":"Y"},{"B":0.6,"C":0.5,"k":"Y"},{"B":0.6,"C":0.55,"k":"Y"},{"B":0.6,"C":0.6,"k":"Y"},{"B":0.6,"C":0.65,"k":"Y"},{"B":0.6,"C":0.7,"k":"B"},{"B":0.6,"C":0.75,"k":"B"},{"B":0.6,"C":0.8,"k":"B"},{"B":0.6,"C":0.85,"k":"B"},{"B":0.6,"C":0.9,"k":"B"},{"B":0.6,"C":0.95,"k":"B"},
{"B":0.55,"C":0.05,"k":"G"},{"B":0.55,"C":0.1,"k":"G"},{"B":0.55,"C":0.15,"k":"G"},{"B":0.55,"C":0.2,"k":"G"},{"B":0.55,"C":0.25,"k":"G"},{"B":0.55,"C":0.3,"k":"G"},{"B":0.55,"C":0.35,"k":"G"},{"B":0.55,"C":0.4,"k":"Y"},{"B":0.55,"C":0.45,"k":"Y"},{"B":0.55,"C":0.5,"k":"Y"},{"B":0.55,"C":0.55,"k":"Y"},{"B":0.55,"C":0.6,"k":"Y"},{"B":0.55,"C":0.65,"k":"Y"},{"B":0.55,"C":0.7,"k":"Y"},{"B":0.55,"C":0.75,"k":"B"},{"B":0.55,"C":0.8,"k":"B"},{"B":0.55,"C":0.85,"k":"B"},{"B":0.55,"C":0.9,"k":"B"},{"B":0.55,"C":0.95,"k":"B"},
{"B":0.5,"C":0.05,"k":"G"},{"B":0.5,"C":0.1,"k":"G"},{"B":0.5,"C":0.15,"k":"G"},{"B":0.5,"C":0.2,"k":"G"},{"B":0.5,"C":0.25,"k":"G"},{"B":0.5,"C":0.3,"k":"G"},{"B":0.5,"C":0.35,"k":"G"},{"B":0.5,"C":0.4,"k":"O"},{"B":0.5,"C":0.45,"k":"Y"},{"B":0.5,"C":0.5,"k":"Y"},{"B":0.5,"C":0.55,"k":"Y"},{"B":0.5,"C":0.6,"k":"Y"},{"B":0.5,"C":0.65,"k":"Y"},{"B":0.5,"C":0.7,"k":"Y"},{"B":0.5,"C":0.75,"k":"Y"},{"B":0.5,"C":0.8,"k":"M"},{"B":0.5,"C":0.85,"k":"B"},{"B":0.5,"C":0.9,"k":"B"},{"B":0.5,"C":0.95,"k":"B"},
{"B":0.45,"C":0.05,"k":"G"},{"B":0.45,"C":0.1,"k":"G"},{"B":0.45,"C":0.15,"k":"G"},{"B":0.45,"C":0.2,"k":"G"},{"B":0.45,"C":0.25,"k":"G"},{"B":0.45,"C":0.3,"k":"G"},{"B":0.45,"C":0.35,"k":"G"},{"B":0.45,"C":0.4,"k":"G"},{"B":0.45,"C":0.45,"k":"Y"},{"B":0.45,"C":0.5,"k":"Y"},{"B":0.45,"C":0.55,"k":"Y"},{"B":0.45,"C":0.6,"k":"Y"},{"B":0.45,"C":0.65,"k":"Y"},{"B":0.45,"C":0.7,"k":"Y"},{"B":0.45,"C":0.75,"k":"Y"},{"B":0.45,"C":0.8,"k":"Y"},{"B":0.45,"C":0.85,"k":"Y"},{"B":0.45,"C":0.9,"k":"B"},{"B":0.45,"C":0.95,"k":"B"},
{"B":0.4,"C":0.05,"k":"G"},{"B":0.4,"C":0.1,"k":"G"},{"B":0.4,"C":0.15,"k":"G"},{"B":0.4,"C":0.2,"k":"G"},{"B":0.4,"C":0.25,"k":"G"},{"B":0.4,"C":0.3,"k":"G"},{"B":0.4,"C":0.35,"k":"G"},{"B":0.4,"C":0.4,"k":"G"},{"B":0.4,"C":0.45,"k":"G"},{"B":0.4,"C":0.5,"k":"O"},{"B":0.4,"C":0.55,"k":"Y"},{"B":0.4,"C":0.6,"k":"Y"},{"B":0.4,"C":0.65,"k":"Y"},{"B":0.4,"C":0.7,"k":"Y"},{"B":0.4,"C":0.75,"k":"Y"},{"B":0.4,"C":0.8,"k":"Y"},{"B":0.4,"C":0.85,"k":"Y"},{"B":0.4,"C":0.9,"k":"Y"},{"B":0.4,"C":0.95,"k":"Y"},
{"B":0.35,"C":0.05,"k":"G"},{"B":0.35,"C":0.1,"k":"G"},{"B":0.35,"C":0.15,"k":"G"},{"B":0.35,"C":0.2,"k":"G"},{"B":0.35,"C":0.25,"k":"G"},{"B":0.35,"C":0.3,"k":"G"},{"B":0.35,"C":0.35,"k":"G"},{"B":0.35,"C":0.4,"k":"G"},{"B":0.35,"C":0.45,"k":"G"},{"B":0.35,"C":0.5,"k":"G"},{"B":0.35,"C":0.55,"k":"G"},{"B":0.35,"C":0.6,"k":"Y"},{"B":0.35,"C":0.65,"k":"Y"},{"B":0.35,"C":0.7,"k":"Y"},{"B":0.35,"C":0.75,"k":"Y"},{"B":0.35,"C":0.8,"k":"Y"},{"B":0.35,"C":0.85,"k":"Y"},{"B":0.35,"C":0.9,"k":"Y"},{"B":0.35,"C":0.95,"k":"Y"},
{"B":0.3,"C":0.05,"k":"G"},{"B":0.3,"C":0.1,"k":"G"},{"B":0.3,"C":0.15,"k":"G"},{"B":0.3,"C":0.2,"k":"G"},{"B":0.3,"C":0.25,"k":"G"},{"B":0.3,"C":0.3,"k":"G"},{"B":0.3,"C":0.35,"k":"G"},{"B":0.3,"C":0.4,"k":"G"},{"B":0.3,"C":0.45,"k":"G"},{"B":0.3,"C":0.5,"k":"G"},{"B":0.3,"C":0.55,"k":"G"},{"B":0.3,"C":0.6,"k":"G"},{"B":0.3,"C":0.65,"k":"Y"},{"B":0.3,"C":0.7,"k":"Y"},{"B":0.3,"C":0.75,"k":"Y"},{"B":0.3,"C":0.8,"k":"Y"},{"B":0.3,"C":0.85,"k":"Y"},{"B":0.3,"C":0.9,"k":"Y"},{"B":0.3,"C":0.95,"k":"Y"},
{"B":0.25,"C":0.05,"k":"G"},{"B":0.25,"C":0.1,"k":"G"},{"B":0.25,"C":0.15,"k":"G"},{"B":0.25,"C":0.2,"k":"G"},{"B":0.25,"C":0.25,"k":"G"},{"B":0.25,"C":0.3,"k":"G"},{"B":0.25,"C":0.35,"k":"G"},{"B":0.25,"C":0.4,"k":"G"},{"B":0.25,"C":0.45,"k":"G"},{"B":0.25,"C":0.5,"k":"G"},{"B":0.25,"C":0.55,"k":"G"},{"B":0.25,"C":0.6,"k":"G"},{"B":0.25,"C":0.65,"k":"G"},{"B":0.25,"C":0.7,"k":"Y"},{"B":0.25,"C":0.75,"k":"Y"},{"B":0.25,"C":0.8,"k":"Y"},{"B":0.25,"C":0.85,"k":"Y"},{"B":0.25,"C":0.9,"k":"Y"},{"B":0.25,"C":0.95,"k":"Y"},
{"B":0.2,"C":0.05,"k":"G"},{"B":0.2,"C":0.1,"k":"G"},{"B":0.2,"C":0.15,"k":"G"},{"B":0.2,"C":0.2,"k":"G"},{"B":0.2,"C":0.25,"k":"G"},{"B":0.2,"C":0.3,"k":"G"},{"B":0.2,"C":0.35,"k":"G"},{"B":0.2,"C":0.4,"k":"G"},{"B":0.2,"C":0.45,"k":"G"},{"B":0.2,"C":0.5,"k":"G"},{"B":0.2,"C":0.55,"k":"G"},{"B":0.2,"C":0.6,"k":"G"},{"B":0.2,"C":0.65,"k":"G"},{"B":0.2,"C":0.7,"k":"G"},{"B":0.2,"C":0.75,"k":"Y"},{"B":0.2,"C":0.8,"k":"Y"},{"B":0.2,"C":0.85,"k":"Y"},{"B":0.2,"C":0.9,"k":"Y"},{"B":0.2,"C":0.95,"k":"Y"},
{"B":0.15,"C":0.05,"k":"G"},{"B":0.15,"C":0.1,"k":"G"},{"B":0.15,"C":0.15,"k":"G"},{"B":0.15,"C":0.2,"k":"G"},{"B":0.15,"C":0.25,"k":"G"},{"B":0.15,"C":0.3,"k":"G"},{"B":0.15,"C":0.35,"k":"G"},{"B":0.15,"C":0.4,"k":"G"},{"B":0.15,"C":0.45,"k":"G"},{"B":0.15,"C":0.5,"k":"G"},{"B":0.15,"C":0.55,"k":"G"},{"B":0.15,"C":0.6,"k":"G"},{"B":0.15,"C":0.65,"k":"G"},{"B":0.15,"C":0.7,"k":"G"},{"B":0.15,"C":0.75,"k":"G"},{"B":0.15,"C":0.8,"k":"Y"},{"B":0.15,"C":0.85,"k":"Y"},{"B":0.15,"C":0.9,"k":"Y"},{"B":0.15,"C":0.95,"k":"Y"},
{"B":0.1,"C":0.05,"k":"G"},{"B":0.1,"C":0.1,"k":"G"},{"B":0.1,"C":0.15,"k":"G"},{"B":0.1,"C":0.2,"k":"G"},{"B":0.1,"C":0.25,"k":"G"},{"B":0.1,"C":0.3,"k":"G"},{"B":0.1,"C":0.35,"k":"G"},{"B":0.1,"C":0.4,"k":"G"},{"B":0.1,"C":0.45,"k":"G"},{"B":0.1,"C":0.5,"k":"G"},{"B":0.1,"C":0.55,"k":"G"},{"B":0.1,"C":0.6,"k":"G"},{"B":0.1,"C":0.65,"k":"G"},{"B":0.1,"C":0.7,"k":"G"},{"B":0.1,"C":0.75,"k":"G"},{"B":0.1,"C":0.8,"k":"G"},{"B":0.1,"C":0.85,"k":"G"},{"B":0.1,"C":0.9,"k":"Y"},{"B":0.1,"C":0.95,"k":"Y"},
{"B":0.05,"C":0.05,"k":"G"},{"B":0.05,"C":0.1,"k":"G"},{"B":0.05,"C":0.15,"k":"G"},{"B":0.05,"C":0.2,"k":"G"},{"B":0.05,"C":0.25,"k":"G"},{"B":0.05,"C":0.3,"k":"G"},{"B":0.05,"C":0.35,"k":"G"},{"B":0.05,"C":0.4,"k":"G"},{"B":0.05,"C":0.45,"k":"G"},{"B":0.05,"C":0.5,"k":"G"},{"B":0.05,"C":0.55,"k":"G"},{"B":0.05,"C":0.6,"k":"G"},{"B":0.05,"C":0.65,"k":"G"},{"B":0.05,"C":0.7,"k":"G"},{"B":0.05,"C":0.75,"k":"G"},{"B":0.05,"C":0.8,"k":"G"},{"B":0.05,"C":0.85,"k":"G"},{"B":0.05,"C":0.9,"k":"G"},{"B":0.05,"C":0.95,"k":"Y"}
],
"h60":[
{"B":0.95,"C":0.05,"k":"G"},{"B":0.95,"C":0.1,"k":"Y"},{"B":0.95,"C":0.15,"k":"Y"},{"B":0.95,"C":0.2,"k":"Y"},{"B":0.95,"C":0.25,"k":"Y"},{"B":0.95,"C":0.3,"k":"Y"},{"B":0.95,"C":0.35,"k":"Y"},{"B":0.95,"C":0.4,"k":"Y"},{"B":0.95,"C":0.45,"k":"Y"},{"B":0.95,"C":0.5,"k":"Y"},{"B":0.95,"C":0.55,"k":"Y"},{"B":0.95,"C":0.6,"k":"Y"},{"B":0.95,"C":0.65,"k":"B"},{"B":0.95,"C":0.7,"k":"B"},{"B":0.95,"C":0.75,"k":"B"},{"B":0.95,"C":0.8,"k":"B"},{"B":0.95,"C":0.85,"k":"B"},{"B":0.95,"C":0.9,"k":"B"},{"B":0.95,"C":0.95,"k":"B"},
{"B":0.9,"C":0.05,"k":"G"},{"B":0.9,"C":0.1,"k":"G"},{"B":0.9,"C":0.15,"k":"Y"},{"B":0.9,"C":0.2,"k":"Y"},{"B":0.9,"C":0.25,"k":"Y"},{"B":0.9,"C":0.3,"k":"Y"},{"B":0.9,"C":0.35,"k":"Y"},{"B":0.9,"C":0.4,"k":"Y"},{"B":0.9,"C":0.45,"k":"Y"},{"B":0.9,"C":0.5,"k":"Y"},{"B":0.9,"C":0.55,"k":"Y"},{"B":0.9,"C":0.6,"k":"Y"},{"B":0.9,"C":0.65,"k":"Y"},{"B":0.9,"C":0.7,"k":"B"},{"B":0.9,"C":0.75,"k":"B"},{"B":0.9,"C":0.8,"k":"B"},{"B":0.9,"C":0.85,"k":"B"},{"B":0.9,"C":0.9,"k":"B"},{"B":0.9,"C":0.95,"k":"B"},
{"B":0.85,"C":0.05,"k":"G"},{"B":0.85,"C":0.1,"k":"G"},{"B":0.85,"C":0.15,"k":"G"},{"B":0.85,"C":0.2,"k":"G"},{"B":0.85,"C":0.25,"k":"Y"},{"B":0.85,"C":0.3,"k":"Y"},{"B":0.85,"C":0.35,"k":"Y"},{"B":0.85,"C":0.4,"k":"Y"},{"B":0.85,"C":0.45,"k":"Y"},{"B":0.85,"C":0.5,"k":"Y"},{"B":0.85,"C":0.55,"k":"Y"},{"B":0.85,"C":0.6,"k":"Y"},{"B":0.85,"C":0.65,"k":"Y"},{"B":0.85,"C":0.7,"k":"Y"},{"B":0.85,"C":0.75,"k":"B"},{"B":0.85,"C":0.8,"k":"B"},{"B":0.85,"C":0.85,"k":"B"},{"B":0.85,"C":0.9,"k":"B"},{"B":0.85,"C":0.95,"k":"B"},
{"B":0.8,"C":0.05,"k":"G"},{"B":0.8,"C":0.1,"k":"G"},{"B":0.8,"C":0.15,"k":"G"},{"B":0.8,"C":0.2,"k":"G"},{"B":0.8,"C":0.25,"k":"G"},{"B":0.8,"C":0.3,"k":"Y"},{"B":0.8,"C":0.35,"k":"Y"},{"B":0.8,"C":0.4,"k":"Y"},{"B":0.8,"C":0.45,"k":"Y"},{"B":0.8,"C":0.5,"k":"Y"},{"B":0.8,"C":0.55,"k":"Y"},{"B":0.8,"C":0.6,"k":"Y"},{"B":0.8,"C":0.65,"k":"Y"},{"B":0.8,"C":0.7,"k":"Y"},{"B":0.8,"C":0.75,"k":"B"},{"B":0.8,"C":0.8,"k":"B"},{"B":0.8,"C":0.85,"k":"B"},{"B":0.8,"C":0.9,"k":"B"},{"B":0.8,"C":0.95,"k":"B"},
{"B":0.75,"C":0.05,"k":"G"},{"B":0.75,"C":0.1,"k":"G"},{"B":0.75,"C":0.15,"k":"G"},{"B":0.75,"C":0.2,"k":"G"},{"B":0.75,"C":0.25,"k":"G"},{"B":0.75,"C":0.3,"k":"G"},{"B":0.75,"C":0.35,"k":"Y"},{"B":0.75,"C":0.4,"k":"Y"},{"B":0.75,"C":0.45,"k":"Y"},{"B":0.75,"C":0.5,"k":"Y"},{"B":0.75,"C":0.55,"k":"Y"},{"B":0.75,"C":0.6,"k":"Y"},{"B":0.75,"C":0.65,"k":"Y"},{"B":0.75,"C":0.7,"k":"Y"},{"B":0.75,"C":0.75,"k":"Y"},{"B":0.75,"C":0.8,"k":"B"},{"B":0.75,"C":0.85,"k":"B"},{"B":0.75,"C":0.9,"k":"B"},{"B":0.75,"C":0.95,"k":"B"},
{"B":0.7,"C":0.05,"k":"G"},{"B":0.7,"C":0.1,"k":"G"},{"B":0.7,"C":0.15,"k":"G"},{"B":0.7,"C":0.2,"k":"G"},{"B":0.7,"C":0.25,"k":"G"},{"B":0.7,"C":0.3,"k":"G"},{"B":0.7,"C":0.35,"k":"G"},{"B":0.7,"C":0.4,"k":"Y"},{"B":0.7,"C":0.45,"k":"Y"},{"B":0.7,"C":0.5,"k":"Y"},{"B":0.7,"C":0.55,"k":"Y"},{"B":0.7,"C":0.6,"k":"Y"},{"B":0.7,"C":0.65,"k":"Y"},{"B":0.7,"C":0.7,"k":"Y"},{"B":0.7,"C":0.75,"k":"Y"},{"B":0.7,"C":0.8,"k":"Y"},{"B":0.7,"C":0.85,"k":"Y"},{"B":0.7,"C":0.9,"k":"B"},{"B":0.7,"C":0.95,"k":"B"},
{"B":0.65,"C":0.05,"k":"G"},{"B":0.65,"C":0.1,"k":"G"},{"B":0.65,"C":0.15,"k":"G"},{"B":0.65,"C":0.2,"k":"G"},{"B":0.65,"C":0.25,"k":"G"},{"B":0.65,"C":0.3,"k":"G"},{"B":0.65,"C":0.35,"k":"G"},{"B":0.65,"C":0.4,"k":"G"},{"B":0.65,"C":0.45,"k":"Y"},{"B":0.65,"C":0.5,"k":"Y"},{"B":0.65,"C":0.55,"k":"Y"},{"B":0.65,"C":0.6,"k":"Y"},{"B":0.65,"C":0.65,"k":"Y"},{"B":0.65,"C":0.7,"k":"Y"},{"B":0.65,"C":0.75,"k":"Y"},{"B":0.65,"C":0.8,"k":"Y"},{"B":0.65,"C":0.85,"k":"Y"},{"B":0.65,"C":0.9,"k":"Y"},{"B":0.65,"C":0.95,"k":"B"},
{"B":0.6,"C":0.05,"k":"G"},{"B":0.6,"C":0.1,"k":"G"},{"B":0.6,"C":0.15,"k":"G"},{"B":0.6,"C":0.2,"k":"G"},{"B":0.6,"C":0.25,"k":"G"},{"B":0.6,"C":0.3,"k":"G"},{"B":0.6,"C":0.35,"k":"G"},{"B":0.6,"C":0.4,"k":"G"},{"B":0.6,"C":0.45,"k":"G"},{"B":0.6,"C":0.5,"k":"Y"},{"B":0.6,"C":0.55,"k":"Y"},{"B":0.6,"C":0.6,"k":"Y"},{"B":0.6,"C":0.65,"k":"Y"},{"B":0.6,"C":0.7,"k":"Y"},{"B":0.6,"C":0.75,"k":"Y"},{"B":0.6,"C":0.8,"k":"Y"},{"B":0.6,"C":0.85,"k":"Y"},{"B":0.6,"C":0.9,"k":"Y"},{"B":0.6,"C":0.95,"k":"Y"},
{"B":0.55,"C":0.05,"k":"G"},{"B":0.55,"C":0.1,"k":"G"},{"B":0.55,"C":0.15,"k":"G"},{"B":0.55,"C":0.2,"k":"G"},{"B":0.55,"C":0.25,"k":"G"},{"B":0.55,"C":0.3,"k":"G"},{"B":0.55,"C":0.35,"k":"G"},{"B":0.55,"C":0.4,"k":"G"},{"B":0.55,"C":0.45,"k":"G"},{"B":0.55,"C":0.5,"k":"G"},{"B":0.55,"C":0.55,"k":"G"},{"B":0.55,"C":0.6,"k":"Y"},{"B":0.55,"C":0.65,"k":"Y"},{"B":0.55,"C":0.7,"k":"Y"},{"B":0.55,"C":0.75,"k":"Y"},{"B":0.55,"C":0.8,"k":"Y"},{"B":0.55,"C":0.85,"k":"Y"},{"B":0.55,"C":0.9,"k":"Y"},{"B":0.55,"C":0.95,"k":"Y"},
{"B":0.5,"C":0.05,"k":"G"},{"B":0.5,"C":0.1,"k":"G"},{"B":0.5,"C":0.15,"k":"G"},{"B":0.5,"C":0.2,"k":"G"},{"B":0.5,"C":0.25,"k":"G"},{"B":0.5,"C":0.3,"k":"G"},{"B":0.5,"C":0.35,"k":"G"},{"B":0.5,"C":0.4,"k":"G"},{"B":0.5,"C":0.45,"k":"G"},{"B":0.5,"C":0.5,"k":"G"},{"B":0.5,"C":0.55,"k":"G"},{"B":0.5,"C":0.6,"k":"Y"},{"B":0.5,"C":0.65,"k":"Y"},{"B":0.5,"C":0.7,"k":"Y"},{"B":0.5,"C":0.75,"k":"Y"},{"B":0.5,"C":0.8,"k":"Y"},{"B":0.5,"C":0.85,"k":"Y"},{"B":0.5,"C":0.9,"k":"Y"},{"B":0.5,"C":0.95,"k":"Y"},
{"B":0.45,"C":0.05,"k":"G"},{"B":0.45,"C":0.1,"k":"G"},{"B":0.45,"C":0.15,"k":"G"},{"B":0.45,"C":0.2,"k":"G"},{"B":0.45,"C":0.25,"k":"G"},{"B":0.45,"C":0.3,"k":"G"},{"B":0.45,"C":0.35,"k":"G"},{"B":0.45,"C":0.4,"k":"G"},{"B":0.45,"C":0.45,"k":"G"},{"B":0.45,"C":0.5,"k":"G"},{"B":0.45,"C":0.55,"k":"G"},{"B":0.45,"C":0.6,"k":"G"},{"B":0.45,"C":0.65,"k":"Y"},{"B":0.45,"C":0.7,"k":"Y"},{"B":0.45,"C":0.75,"k":"Y"},{"B":0.45,"C":0.8,"k":"Y"},{"B":0.45,"C":0.85,"k":"Y"},{"B":0.45,"C":0.9,"k":"Y"},{"B":0.45,"C":0.95,"k":"Y"},
{"B":0.4,"C":0.05,"k":"G"},{"B":0.4,"C":0.1,"k":"G"},{"B":0.4,"C":0.15,"k":"G"},{"B":0.4,"C":0.2,"k":"G"},{"B":0.4,"C":0.25,"k":"G"},{"B":0.4,"C":0.3,"k":"G"},{"B":0.4,"C":0.35,"k":"G"},{"B":0.4,"C":0.4,"k":"G"},{"B":0.4,"C":0.45,"k":"G"},{"B":0.4,"C":0.5,"k":"G"},{"B":0.4,"C":0.55,"k":"G"},{"B":0.4,"C":0.6,"k":"G"},{"B":0.4,"C":0.65,"k":"G"},{"B":0.4,"C":0.7,"k":"Y"},{"B":0.4,"C":0.75,"k":"Y"},{"B":0.4,"C":0.8,"k":"Y"},{"B":0.4,"C":0.85,"k":"Y"},{"B":0.4,"C":0.9,"k":"Y"},{"B":0.4,"C":0.95,"k":"Y"},
{"B":0.35,"C":0.05,"k":"G"},{"B":0.35,"C":0.1,"k":"G"},{"B":0.35,"C":0.15,"k":"G"},{"B":0.35,"C":0.2,"k":"G"},{"B":0.35,"C":0.25,"k":"G"},{"B":0.35,"C":0.3,"k":"G"},{"B":0.35,"C":0.35,"k":"G"},{"B":0.35,"C":0.4,"k":"G"},{"B":0.35,"C":0.45,"k":"G"},{"B":0.35,"C":0.5,"k":"G"},{"B":0.35,"C":0.55,"k":"G"},{"B":0.35,"C":0.6,"k":"G"},{"B":0.35,"C":0.65,"k":"G"},{"B":0.35,"C":0.7,"k":"G"},{"B":0.35,"C":0.75,"k":"Y"},{"B":0.35,"C":0.8,"k":"Y"},{"B":0.35,"C":0.85,"k":"Y"},{"B":0.35,"C":0.9,"k":"Y"},{"B":0.35,"C":0.95,"k":"Y"},
{"B":0.3,"C":0.05,"k":"G"},{"B":0.3,"C":0.1,"k":"G"},{"B":0.3,"C":0.15,"k":"G"},{"B":0.3,"C":0.2,"k":"G"},{"B":0.3,"C":0.25,"k":"G"},{"B":0.3,"C":0.3,"k":"G"},{"B":0.3,"C":0.35,"k":"G"},{"B":0.3,"C":0.4,"k":"G"},{"B":0.3,"C":0.45,"k":"G"},{"B":0.3,"C":0.5,"k":"G"},{"B":0.3,"C":0.55,"k":"G"},{"B":0.3,"C":0.6,"k":"G"},{"B":0.3,"C":0.65,"k":"G"},{"B":0.3,"C":0.7,"k":"G"},{"B":0.3,"C":0.75,"k":"G"},{"B":0.3,"C":0.8,"k":"Y"},{"B":0.3,"C":0.85,"k":"Y"},{"B":0.3,"C":0.9,"k":"Y"},{"B":0.3,"C":0.95,"k":"Y"},
{"B":0.25,"C":0.05,"k":"G"},{"B":0.25,"C":0.1,"k":"G"},{"B":0.25,"C":0.15,"k":"G"},{"B":0.25,"C":0.2,"k":"G"},{"B":0.25,"C":0.25,"k":"G"},{"B":0.25,"C":0.3,"k":"G"},{"B":0.25,"C":0.35,"k":"G"},{"B":0.25,"C":0.4,"k":"G"},{"B":0.25,"C":0.45,"k":"G"},{"B":0.25,"C":0.5,"k":"G"},{"B":0.25,"C":0.55,"k":"G"},{"B":0.25,"C":0.6,"k":"G"},{"B":0.25,"C":0.65,"k":"G"},{"B":0.25,"C":0.7,"k":"G"},{"B":0.25,"C":0.75,"k":"G"},{"B":0.25,"C":0.8,"k":"G"},{"B":0.25,"C":0.85,"k":"Y"},{"B":0.25,"C":0.9,"k":"Y"},{"B":0.25,"C":0.95,"k":"Y"},
{"B":0.2,"C":0.05,"k":"G"},{"B":0.2,"C":0.1,"k":"G"},{"B":0.2,"C":0.15,"k":"G"},{"B":0.2,"C":0.2,"k":"G"},{"B":0.2,"C":0.25,"k":"G"},{"B":0.2,"C":0.3,"k":"G"},{"B":0.2,"C":0.35,"k":"G"},{"B":0.2,"C":0.4,"k":"G"},{"B":0.2,"C":0.45,"k":"G"},{"B":0.2,"C":0.5,"k":"G"},{"B":0.2,"C":0.55,"k":"G"},{"B":0.2,"C":0.6,"k":"G"},{"B":0.2,"C":0.65,"k":"G"},{"B":0.2,"C":0.7,"k":"G"},{"B":0.2,"C":0.75,"k":"G"},{"B":0.2,"C":0.8,"k":"G"},{"B":0.2,"C":0.85,"k":"G"},{"B":0.2,"C":0.9,"k":"Y"},{"B":0.2,"C":0.95,"k":"Y"},
{"B":0.15,"C":0.05,"k":"G"},{"B":0.15,"C":0.1,"k":"G"},{"B":0.15,"C":0.15,"k":"G"},{"B":0.15,"C":0.2,"k":"G"},{"B":0.15,"C":0.25,"k":"G"},{"B":0.15,"C":0.3,"k":"G"},{"B":0.15,"C":0.35,"k":"G"},{"B":0.15,"C":0.4,"k":"G"},{"B":0.15,"C":0.45,"k":"G"},{"B":0.15,"C":0.5,"k":"G"},{"B":0.15,"C":0.55,"k":"G"},{"B":0.15,"C":0.6,"k":"G"},{"B":0.15,"C":0.65,"k":"G"},{"B":0.15,"C":0.7,"k":"G"},{"B":0.15,"C":0.75,"k":"G"},{"B":0.15,"C":0.8,"k":"G"},{"B":0.15,"C":0.85,"k":"G"},{"B":0.15,"C":0.9,"k":"Y"},{"B":0.15,"C":0.95,"k":"Y"},
{"B":0.1,"C":0.05,"k":"G"},{"B":0.1,"C":0.1,"k":"G"},{"B":0.1,"C":0.15,"k":"G"},{"B":0.1,"C":0.2,"k":"G"},{"B":0.1,"C":0.25,"k":"G"},{"B":0.1,"C":0.3,"k":"G"},{"B":0.1,"C":0.35,"k":"G"},{"B":0.1,"C":0.4,"k":"G"},{"B":0.1,"C":0.45,"k":"G"},{"B":0.1,"C":0.5,"k":"G"},{"B":0.1,"C":0.55,"k":"G"},{"B":0.1,"C":0.6,"k":"G"},{"B":0.1,"C":0.65,"k":"G"},{"B":0.1,"C":0.7,"k":"G"},{"B":0.1,"C":0.75,"k":"G"},{"B":0.1,"C":0.8,"k":"G"},{"B":0.1,"C":0.85,"k":"G"},{"B":0.1,"C":0.9,"k":"G"},{"B":0.1,"C":0.95,"k":"Y"},
{"B":0.05,"C":0.05,"k":"G"},{"B":0.05,"C":0.1,"k":"G"},{"B":0.05,"C":0.15,"k":"G"},{"B":0.05,"C":0.2,"k":"G"},{"B":0.05,"C":0.25,"k":"G"},{"B":0.05,"C":0.3,"k":"G"},{"B":0.05,"C":0.35,"k":"G"},{"B":0.05,"C":0.4,"k":"G"},{"B":0.05,"C":0.45,"k":"G"},{"B":0.05,"C":0.5,"k":"G"},{"B":0.05,"C":0.55,"k":"G"},{"B":0.05,"C":0.6,"k":"G"},{"B":0.05,"C":0.65,"k":"G"},{"B":0.05,"C":0.7,"k":"G"},{"B":0.05,"C":0.75,"k":"G"},{"B":0.05,"C":0.8,"k":"G"},{"B":0.05,"C":0.85,"k":"G"},{"B":0.05,"C":0.9,"k":"G"},{"B":0.05,"C":0.95,"k":"G"}
],
"h80":[
{"B":0.95,"C":0.05,"k":"G"},{"B":0.95,"C":0.1,"k":"G"},{"B":0.95,"C":0.15,"k":"G"},{"B":0.95,"C":0.2,"k":"Y"},{"B":0.95,"C":0.25,"k":"Y"},{"B":0.95,"C":0.3,"k":"Y"},{"B":0.95,"C":0.35,"k":"Y"},{"B":0.95,"C":0.4,"k":"Y"},{"B":0.95,"C":0.45,"k":"Y"},{"B":0.95,"C":0.5,"k":"Y"},{"B":0.95,"C":0.55,"k":"Y"},{"B":0.95,"C":0.6,"k":"Y"},{"B":0.95,"C":0.65,"k":"Y"},{"B":0.95,"C":0.7,"k":"Y"},{"B":0.95,"C":0.75,"k":"Y"},{"B":0.95,"C":0.8,"k":"Y"},{"B":0.95,"C":0.85,"k":"B"},{"B":0.95,"C":0.9,"k":"B"},{"B":0.95,"C":0.95,"k":"B"},
{"B":0.9,"C":0.05,"k":"G"},{"B":0.9,"C":0.1,"k":"G"},{"B":0.9,"C":0.15,"k":"G"},{"B":0.9,"C":0.2,"k":"G"},{"B":0.9,"C":0.25,"k":"G"},{"B":0.9,"C":0.3,"k":"G"},{"B":0.9,"C":0.35,"k":"Y"},{"B":0.9,"C":0.4,"k":"Y"},{"B":0.9,"C":0.45,"k":"Y"},{"B":0.9,"C":0.5,"k":"Y"},{"B":0.9,"C":0.55,"k":"Y"},{"B":0.9,"C":0.6,"k":"Y"},{"B":0.9,"C":0.65,"k":"Y"},{"B":0.9,"C":0.7,"k":"Y"},{"B":0.9,"C":0.75,"k":"Y"},{"B":0.9,"C":0.8,"k":"Y"},{"B":0.9,"C":0.85,"k":"Y"},{"B":0.9,"C":0.9,"k":"B"},{"B":0.9,"C":0.95,"k":"B"},
{"B":0.85,"C":0.05,"k":"G"},{"B":0.85,"C":0.1,"k":"G"},{"B":0.85,"C":0.15,"k":"G"},{"B":0.85,"C":0.2,"k":"G"},{"B":0.85,"C":0.25,"k":"G"},{"B":0.85,"C":0.3,"k":"G"},{"B":0.85,"C":0.35,"k":"G"},{"B":0.85,"C":0.4,"k":"G"},{"B":0.85,"C":0.45,"k":"Y"},{"B":0.85,"C":0.5,"k":"Y"},{"B":0.85,"C":0.55,"k":"Y"},{"B":0.85,"C":0.6,"k":"Y"},{"B":0.85,"C":0.65,"k":"Y"},{"B":0.85,"C":0.7,"k":"Y"},{"B":0.85,"C":0.75,"k":"Y"},{"B":0.85,"C":0.8,"k":"Y"},{"B":0.85,"C":0.85,"k":"Y"},{"B":0.85,"C":0.9,"k":"Y"},{"B":0.85,"C":0.95,"k":"B"},
{"B":0.8,"C":0.05,"k":"G"},{"B":0.8,"C":0.1,"k":"G"},{"B":0.8,"C":0.15,"k":"G"},{"B":0.8,"C":0.2,"k":"G"},{"B":0.8,"C":0.25,"k":"G"},{"B":0.8,"C":0.3,"k":"G"},{"B":0.8,"C":0.35,"k":"G"},{"B":0.8,"C":0.4,"k":"G"},{"B":0.8,"C":0.45,"k":"G"},{"B":0.8,"C":0.5,"k":"O"},{"B":0.8,"C":0.55,"k":"Y"},{"B":0.8,"C":0.6,"k":"Y"},{"B":0.8,"C":0.65,"k":"Y"},{"B":0.8,"C":0.7,"k":"Y"},{"B":0.8,"C":0.75,"k":"Y"},{"B":0.8,"C":0.8,"k":"Y"},{"B":0.8,"C":0.85,"k":"Y"},{"B":0.8,"C":0.9,"k":"Y"},{"B":0.8,"C":0.95,"k":"Y"},
{"B":0.75,"C":0.05,"k":"G"},{"B":0.75,"C":0.1,"k":"G"},{"B":0.75,"C":0.15,"k":"G"},{"B":0.75,"C":0.2,"k":"G"},{"B":0.75,"C":0.25,"k":"G"},{"B":0.75,"C":0.3,"k":"G"},{"B":0.75,"C":0.35,"k":"G"},{"B":0.75,"C":0.4,"k":"G"},{"B":0.75,"C":0.45,"k":"G"},{"B":0.75,"C":0.5,"k":"G"},{"B":0.75,"C":0.55,"k":"G"},{"B":0.75,"C":0.6,"k":"Y"},{"B":0.75,"C":0.65,"k":"Y"},{"B":0.75,"C":0.7,"k":"Y"},{"B":0.75,"C":0.75,"k":"Y"},{"B":0.75,"C":0.8,"k":"Y"},{"B":0.75,"C":0.85,"k":"Y"},{"B":0.75,"C":0.9,"k":"Y"},{"B":0.75,"C":0.95,"k":"Y"},
{"B":0.7,"C":0.05,"k":"G"},{"B":0.7,"C":0.1,"k":"G"},{"B":0.7,"C":0.15,"k":"G"},{"B":0.7,"C":0.2,"k":"G"},{"B":0.7,"C":0.25,"k":"G"},{"B":0.7,"C":0.3,"k":"G"},{"B":0.7,"C":0.35,"k":"G"},{"B":0.7,"C":0.4,"k":"G"},{"B":0.7,"C":0.45,"k":"G"},{"B":0.7,"C":0.5,"k":"G"},{"B":0.7,"C":0.55,"k":"G"},{"B":0.7,"C":0.6,"k":"G"},{"B":0.7,"C":0.65,"k":"Y"},{"B":0.7,"C":0.7,"k":"Y"},{"B":0.7,"C":0.75,"k":"Y"},{"B":0.7,"C":0.8,"k":"Y"},{"B":0.7,"C":0.85,"k":"Y"},{"B":0.7,"C":0.9,"k":"Y"},{"B":0.7,"C":0.95,"k":"Y"},
{"B":0.65,"C":0.05,"k":"G"},{"B":0.65,"C":0.1,"k":"G"},{"B":0.65,"C":0.15,"k":"G"},{"B":0.65,"C":0.2,"k":"G"},{"B":0.65,"C":0.25,"k":"G"},{"B":0.65,"C":0.3,"k":"G"},{"B":0.65,"C":0.35,"k":"G"},{"B":0.65,"C":0.4,"k":"G"},{"B":0.65,"C":0.45,"k":"G"},{"B":0.65,"C":0.5,"k":"G"},{"B":0.65,"C":0.55,"k":"G"},{"B":0.65,"C":0.6,"k":"G"},{"B":0.65,"C":0.65,"k":"G"},{"B":0.65,"C":0.7,"k":"Y"},{"B":0.65,"C":0.75,"k":"Y"},{"B":0.65,"C":0.8,"k":"Y"},{"B":0.65,"C":0.85,"k":"Y"},{"B":0.65,"C":0.9,"k":"Y"},{"B":0.65,"C":0.95,"k":"Y"},
{"B":0.6,"C":0.05,"k":"G"},{"B":0.6,"C":0.1,"k":"G"},{"B":0.6,"C":0.15,"k":"G"},{"B":0.6,"C":0.2,"k":"G"},{"B":0.6,"C":0.25,"k":"G"},{"B":0.6,"C":0.3,"k":"G"},{"B":0.6,"C":0.35,"k":"G"},{"B":0.6,"C":0.4,"k":"G"},{"B":0.6,"C":0.45,"k":"G"},{"B":0.6,"C":0.5,"k":"G"},{"B":0.6,"C":0.55,"k":"G"},{"B":0.6,"C":0.6,"k":"G"},{"B":0.6,"C":0.65,"k":"G"},{"B":0.6,"C":0.7,"k":"G"},{"B":0.6,"C":0.75,"k":"Y"},{"B":0.6,"C":0.8,"k":"Y"},{"B":0.6,"C":0.85,"k":"Y"},{"B":0.6,"C":0.9,"k":"Y"},{"B":0.6,"C":0.95,"k":"Y"},
{"B":0.55,"C":0.05,"k":"G"},{"B":0.55,"C":0.1,"k":"G"},{"B":0.55,"C":0.15,"k":"G"},{"B":0.55,"C":0.2,"k":"G"},{"B":0.55,"C":0.25,"k":"G"},{"B":0.55,"C":0.3,"k":"G"},{"B":0.55,"C":0.35,"k":"G"},{"B":0.55,"C":0.4,"k":"G"},{"B":0.55,"C":0.45,"k":"G"},{"B":0.55,"C":0.5,"k":"G"},{"B":0.55,"C":0.55,"k":"G"},{"B":0.55,"C":0.6,"k":"G"},{"B":0.55,"C":0.65,"k":"G"},{"B":0.55,"C":0.7,"k":"G"},{"B":0.55,"C":0.75,"k":"G"},{"B":0.55,"C":0.8,"k":"Y"},{"B":0.55,"C":0.85,"k":"Y"},{"B":0.55,"C":0.9,"k":"Y"},{"B":0.55,"C":0.95,"k":"Y"},
{"B":0.5,"C":0.05,"k":"G"},{"B":0.5,"C":0.1,"k":"G"},{"B":0.5,"C":0.15,"k":"G"},{"B":0.5,"C":0.2,"k":"G"},{"B":0.5,"C":0.25,"k":"G"},{"B":0.5,"C":0.3,"k":"G"},{"B":0.5,"C":0.35,"k":"G"},{"B":0.5,"C":0.4,"k":"G"},{"B":0.5,"C":0.45,"k":"G"},{"B":0.5,"C":0.5,"k":"G"},{"B":0.5,"C":0.55,"k":"G"},{"B":0.5,"C":0.6,"k":"G"},{"B":0.5,"C":0.65,"k":"G"},{"B":0.5,"C":0.7,"k":"G"},{"B":0.5,"C":0.75,"k":"G"},{"B":0.5,"C":0.8,"k":"O"},{"B":0.5,"C":0.85,"k":"Y"},{"B":0.5,"C":0.9,"k":"Y"},{"B":0.5,"C":0.95,"k":"Y"},
{"B":0.45,"C":0.05,"k":"G"},{"B":0.45,"C":0.1,"k":"G"},{"B":0.45,"C":0.15,"k":"G"},{"B":0.45,"C":0.2,"k":"G"},{"B":0.45,"C":0.25,"k":"G"},{"B":0.45,"C":0.3,"k":"G"},{"B":0.45,"C":0.35,"k":"G"},{"B":0.45,"C":0.4,"k":"G"},{"B":0.45,"C":0.45,"k":"G"},{"B":0.45,"C":0.5,"k":"G"},{"B":0.45,"C":0.55,"k":"G"},{"B":0.45,"C":0.6,"k":"G"},{"B":0.45,"C":0.65,"k":"G"},{"B":0.45,"C":0.7,"k":"G"},{"B":0.45,"C":0.75,"k":"G"},{"B":0.45,"C":0.8,"k":"G"},{"B":0.45,"C":0.85,"k":"Y"},{"B":0.45,"C":0.9,"k":"Y"},{"B":0.45,"C":0.95,"k":"Y"},
{"B":0.4,"C":0.05,"k":"G"},{"B":0.4,"C":0.1,"k":"G"},{"B":0.4,"C":0.15,"k":"G"},{"B":0.4,"C":0.2,"k":"G"},{"B":0.4,"C":0.25,"k":"G"},{"B":0.4,"C":0.3,"k":"G"},{"B":0.4,"C":0.35,"k":"G"},{"B":0.4,"C":0.4,"k":"G"},{"B":0.4,"C":0.45,"k":"G"},{"B":0.4,"C":0.5,"k":"G"},{"B":0.4,"C":0.55,"k":"G"},{"B":0.4,"C":0.6,"k":"G"},{"B":0.4,"C":0.65,"k":"G"},{"B":0.4,"C":0.7,"k":"G"},{"B":0.4,"C":0.75,"k":"G"},{"B":0.4,"C":0.8,"k":"G"},{"B":0.4,"C":0.85,"k":"G"},{"B":0.4,"C":0.9,"k":"Y"},{"B":0.4,"C":0.95,"k":"Y"},
{"B":0.35,"C":0.05,"k":"G"},{"B":0.35,"C":0.1,"k":"G"},{"B":0.35,"C":0.15,"k":"G"},{"B":0.35,"C":0.2,"k":"G"},{"B":0.35,"C":0.25,"k":"G"},{"B":0.35,"C":0.3,"k":"G"},{"B":0.35,"C":0.35,"k":"G"},{"B":0.35,"C":0.4,"k":"G"},{"B":0.35,"C":0.45,"k":"G"},{"B":0.35,"C":0.5,"k":"G"},{"B":0.35,"C":0.55,"k":"G"},{"B":0.35,"C":0.6,"k":"G"},{"B":0.35,"C":0.65,"k":"G"},{"B":0.35,"C":0.7,"k":"G"},{"B":0.35,"C":0.75,"k":"G"},{"B":0.35,"C":0.8,"k":"G"},{"B":0.35,"C":0.85,"k":"G"},{"B":0.35,"C":0.9,"k":"Y"},{"B":0.35,"C":0.95,"k":"Y"},
{"B":0.3,"C":0.05,"k":"G"},{"B":0.3,"C":0.1,"k":"G"},{"B":0.3,"C":0.15,"k":"G"},{"B":0.3,"C":0.2,"k":"G"},{"B":0.3,"C":0.25,"k":"G"},{"B":0.3,"C":0.3,"k":"G"},{"B":0.3,"C":0.35,"k":"G"},{"B":0.3,"C":0.4,"k":"G"},{"B":0.3,"C":0.45,"k":"G"},{"B":0.3,"C":0.5,"k":"G"},{"B":0.3,"C":0.55,"k":"G"},{"B":0.3,"C":0.6,"k":"G"},{"B":0.3,"C":0.65,"k":"G"},{"B":0.3,"C":0.7,"k":"G"},{"B":0.3,"C":0.75,"k":"G"},{"B":0.3,"C":0.8,"k":"G"},{"B":0.3,"C":0.85,"k":"G"},{"B":0.3,"C":0.9,"k":"G"},{"B":0.3,"C":0.95,"k":"Y"},
{"B":0.25,"C":0.05,"k":"G"},{"B":0.25,"C":0.1,"k":"G"},{"B":0.25,"C":0.15,"k":"G"},{"B":0.25,"C":0.2,"k":"G"},{"B":0.25,"C":0.25,"k":"G"},{"B":0.25,"C":0.3,"k":"G"},{"B":0.25,"C":0.35,"k":"G"},{"B":0.25,"C":0.4,"k":"G"},{"B":0.25,"C":0.45,"k":"G"},{"B":0.25,"C":0.5,"k":"G"},{"B":0.25,"C":0.55,"k":"G"},{"B":0.25,"C":0.6,"k":"G"},{"B":0.25,"C":0.65,"k":"G"},{"B":0.25,"C":0.7,"k":"G"},{"B":0.25,"C":0.75,"k":"G"},{"B":0.25,"C":0.8,"k":"G"},{"B":0.25,"C":0.85,"k":"G"},{"B":0.25,"C":0.9,"k":"G"},{"B":0.25,"C":0.95,"k":"Y"},
{"B":0.2,"C":0.05,"k":"G"},{"B":0.2,"C":0.1,"k":"G"},{"B":0.2,"C":0.15,"k":"G"},{"B":0.2,"C":0.2,"k":"G"},{"B":0.2,"C":0.25,"k":"G"},{"B":0.2,"C":0.3,"k":"G"},{"B":0.2,"C":0.35,"k":"G"},{"B":0.2,"C":0.4,"k":"G"},{"B":0.2,"C":0.45,"k":"G"},{"B":0.2,"C":0.5,"k":"G"},{"B":0.2,"C":0.55,"k":"G"},{"B":0.2,"C":0.6,"k":"G"},{"B":0.2,"C":0.65,"k":"G"},{"B":0.2,"C":0.7,"k":"G"},{"B":0.2,"C":0.75,"k":"G"},{"B":0.2,"C":0.8,"k":"G"},{"B":0.2,"C":0.85,"k":"G"},{"B":0.2,"C":0.9,"k":"G"},{"B":0.2,"C":0.95,"k":"Y"},
{"B":0.15,"C":0.05,"k":"G"},{"B":0.15,"C":0.1,"k":"G"},{"B":0.15,"C":0.15,"k":"G"},{"B":0.15,"C":0.2,"k":"G"},{"B":0.15,"C":0.25,"k":"G"},{"B":0.15,"C":0.3,"k":"G"},{"B":0.15,"C":0.35,"k":"G"},{"B":0.15,"C":0.4,"k":"G"},{"B":0.15,"C":0.45,"k":"G"},{"B":0.15,"C":0.5,"k":"G"},{"B":0.15,"C":0.55,"k":"G"},{"B":0.15,"C":0.6,"k":"G"},{"B":0.15,"C":0.65,"k":"G"},{"B":0.15,"C":0.7,"k":"G"},{"B":0.15,"C":0.75,"k":"G"},{"B":0.15,"C":0.8,"k":"G"},{"B":0.15,"C":0.85,"k":"G"},{"B":0.15,"C":0.9,"k":"G"},{"B":0.15,"C":0.95,"k":"G"},
{"B":0.1,"C":0.05,"k":"G"},{"B":0.1,"C":0.1,"k":"G"},{"B":0.1,"C":0.15,"k":"G"},{"B":0.1,"C":0.2,"k":"G"},{"B":0.1,"C":0.25,"k":"G"},{"B":0.1,"C":0.3,"k":"G"},{"B":0.1,"C":0.35,"k":"G"},{"B":0.1,"C":0.4,"k":"G"},{"B":0.1,"C":0.45,"k":"G"},{"B":0.1,"C":0.5,"k":"G"},{"B":0.1,"C":0.55,"k":"G"},{"B":0.1,"C":0.6,"k":"G"},{"B":0.1,"C":0.65,"k":"G"},{"B":0.1,"C":0.7,"k":"G"},{"B":0.1,"C":0.75,"k":"G"},{"B":0.1,"C":0.8,"k":"G"},{"B":0.1,"C":0.85,"k":"G"},{"B":0.1,"C":0.9,"k":"G"},{"B":0.1,"C":0.95,"k":"G"},
{"B":0.05,"C":0.05,"k":"G"},{"B":0.05,"C":0.1,"k":"G"},{"B":0.05,"C":0.15,"k":"G"},{"B":0.05,"C":0.2,"k":"G"},{"B":0.05,"C":0.25,"k":"G"},{"B":0.05,"C":0.3,"k":"G"},{"B":0.05,"C":0.35,"k":"G"},{"B":0.05,"C":0.4,"k":"G"},{"B":0.05,"C":0.45,"k":"G"},{"B":0.05,"C":0.5,"k":"G"},{"B":0.05,"C":0.55,"k":"G"},{"B":0.05,"C":0.6,"k":"G"},{"B":0.05,"C":0.65,"k":"G"},{"B":0.05,"C":0.7,"k":"G"},{"B":0.05,"C":0.75,"k":"G"},{"B":0.05,"C":0.8,"k":"G"},{"B":0.05,"C":0.85,"k":"G"},{"B":0.05,"C":0.9,"k":"G"},{"B":0.05,"C":0.95,"k":"G"}
],
"h95":[
{"B":0.95,"C":0.05,"k":"G"},{"B":0.95,"C":0.1,"k":"G"},{"B":0.95,"C":0.15,"k":"G"},{"B":0.95,"C":0.2,"k":"G"},{"B":0.95,"C":0.25,"k":"G"},{"B":0.95,"C":0.3,"k":"G"},{"B":0.95,"C":0.35,"k":"G"},{"B":0.95,"C":0.4,"k":"G"},{"B":0.95,"C":0.45,"k":"G"},{"B":0.95,"C":0.5,"k":"O"},{"B":0.95,"C":0.55,"k":"Y"},{"B":0.95,"C":0.6,"k":"Y"},{"B":0.95,"C":0.65,"k":"Y"},{"B":0.95,"C":0.7,"k":"Y"},{"B":0.95,"C":0.75,"k":"Y"},{"B":0.95,"C":0.8,"k":"Y"},{"B":0.95,"C":0.85,"k":"Y"},{"B":0.95,"C":0.9,"k":"Y"},{"B":0.95,"C":0.95,"k":"Y"},
{"B":0.9,"C":0.05,"k":"G"},{"B":0.9,"C":0.1,"k":"G"},{"B":0.9,"C":0.15,"k":"G"},{"B":0.9,"C":0.2,"k":"G"},{"B":0.9,"C":0.25,"k":"G"},{"B":0.9,"C":0.3,"k":"G"},{"B":0.9,"C":0.35,"k":"G"},{"B":0.9,"C":0.4,"k":"G"},{"B":0.9,"C":0.45,"k":"G"},{"B":0.9,"C":0.5,"k":"G"},{"B":0.9,"C":0.55,"k":"G"},{"B":0.9,"C":0.6,"k":"G"},{"B":0.9,"C":0.65,"k":"G"},{"B":0.9,"C":0.7,"k":"Y"},{"B":0.9,"C":0.75,"k":"Y"},{"B":0.9,"C":0.8,"k":"Y"},{"B":0.9,"C":0.85,"k":"Y"},{"B":0.9,"C":0.9,"k":"Y"},{"B":0.9,"C":0.95,"k":"Y"},
{"B":0.85,"C":0.05,"k":"G"},{"B":0.85,"C":0.1,"k":"G"},{"B":0.85,"C":0.15,"k":"G"},{"B":0.85,"C":0.2,"k":"G"},{"B":0.85,"C":0.25,"k":"G"},{"B":0.85,"C":0.3,"k":"G"},{"B":0.85,"C":0.35,"k":"G"},{"B":0.85,"C":0.4,"k":"G"},{"B":0.85,"C":0.45,"k":"G"},{"B":0.85,"C":0.5,"k":"G"},{"B":0.85,"C":0.55,"k":"G"},{"B":0.85,"C":0.6,"k":"G"},{"B":0.85,"C":0.65,"k":"G"},{"B":0.85,"C":0.7,"k":"G"},{"B":0.85,"C":0.75,"k":"G"},{"B":0.85,"C":0.8,"k":"Y"},{"B":0.85,"C":0.85,"k":"Y"},{"B":0.85,"C":0.9,"k":"Y"},{"B":0.85,"C":0.95,"k":"Y"},
{"B":0.8,"C":0.05,"k":"G"},{"B":0.8,"C":0.1,"k":"G"},{"B":0.8,"C":0.15,"k":"G"},{"B":0.8,"C":0.2,"k":"G"},{"B":0.8,"C":0.25,"k":"G"},{"B":0.8,"C":0.3,"k":"G"},{"B":0.8,"C":0.35,"k":"G"},{"B":0.8,"C":0.4,"k":"G"},{"B":0.8,"C":0.45,"k":"G"},{"B":0.8,"C":0.5,"k":"G"},{"B":0.8,"C":0.55,"k":"G"},{"B":0.8,"C":0.6,"k":"G"},{"B":0.8,"C":0.65,"k":"G"},{"B":0.8,"C":0.7,"k":"G"},{"B":0.8,"C":0.75,"k":"G"},{"B":0.8,"C":0.8,"k":"G"},{"B":0.8,"C":0.85,"k":"Y"},{"B":0.8,"C":0.9,"k":"Y"},{"B":0.8,"C":0.95,"k":"Y"},
{"B":0.75,"C":0.05,"k":"G"},{"B":0.75,"C":0.1,"k":"G"},{"B":0.75,"C":0.15,"k":"G"},{"B":0.75,"C":0.2,"k":"G"},{"B":0.75,"C":0.25,"k":"G"},{"B":0.75,"C":0.3,"k":"G"},{"B":0.75,"C":0.35,"k":"G"},{"B":0.75,"C":0.4,"k":"G"},{"B":0.75,"C":0.45,"k":"G"},{"B":0.75,"C":0.5,"k":"G"},{"B":0.75,"C":0.55,"k":"G"},{"B":0.75,"C":0.6,"k":"G"},{"B":0.75,"C":0.65,"k":"G"},{"B":0.75,"C":0.7,"k":"G"},{"B":0.75,"C":0.75,"k":"G"},{"B":0.75,"C":0.8,"k":"G"},{"B":0.75,"C":0.85,"k":"G"},{"B":0.75,"C":0.9,"k":"Y"},{"B":0.75,"C":0.95,"k":"Y"},
{"B":0.7,"C":0.05,"k":"G"},{"B":0.7,"C":0.1,"k":"G"},{"B":0.7,"C":0.15,"k":"G"},{"B":0.7,"C":0.2,"k":"G"},{"B":0.7,"C":0.25,"k":"G"},{"B":0.7,"C":0.3,"k":"G"},{"B":0.7,"C":0.35,"k":"G"},{"B":0.7,"C":0.4,"k":"G"},{"B":0.7,"C":0.45,"k":"G"},{"B":0.7,"C":0.5,"k":"G"},{"B":0.7,"C":0.55,"k":"G"},{"B":0.7,"C":0.6,"k":"G"},{"B":0.7,"C":0.65,"k":"G"},{"B":0.7,"C":0.7,"k":"G"},{"B":0.7,"C":0.75,"k":"G"},{"B":0.7,"C":0.8,"k":"G"},{"B":0.7,"C":0.85,"k":"G"},{"B":0.7,"C":0.9,"k":"Y"},{"B":0.7,"C":0.95,"k":"Y"},
{"B":0.65,"C":0.05,"k":"G"},{"B":0.65,"C":0.1,"k":"G"},{"B":0.65,"C":0.15,"k":"G"},{"B":0.65,"C":0.2,"k":"G"},{"B":0.65,"C":0.25,"k":"G"},{"B":0.65,"C":0.3,"k":"G"},{"B":0.65,"C":0.35,"k":"G"},{"B":0.65,"C":0.4,"k":"G"},{"B":0.65,"C":0.45,"k":"G"},{"B":0.65,"C":0.5,"k":"G"},{"B":0.65,"C":0.55,"k":"G"},{"B":0.65,"C":0.6,"k":"G"},{"B":0.65,"C":0.65,"k":"G"},{"B":0.65,"C":0.7,"k":"G"},{"B":0.65,"C":0.75,"k":"G"},{"B":0.65,"C":0.8,"k":"G"},{"B":0.65,"C":0.85,"k":"G"},{"B":0.65,"C":0.9,"k":"G"},{"B":0.65,"C":0.95,"k":"Y"},
{"B":0.6,"C":0.05,"k":"G"},{"B":0.6,"C":0.1,"k":"G"},{"B":0.6,"C":0.15,"k":"G"},{"B":0.6,"C":0.2,"k":"G"},{"B":0.6,"C":0.25,"k":"G"},{"B":0.6,"C":0.3,"k":"G"},{"B":0.6,"C":0.35,"k":"G"},{"B":0.6,"C":0.4,"k":"G"},{"B":0.6,"C":0.45,"k":"G"},{"B":0.6,"C":0.5,"k":"G"},{"B":0.6,"C":0.55,"k":"G"},{"B":0.6,"C":0.6,"k":"G"},{"B":0.6,"C":0.65,"k":"G"},{"B":0.6,"C":0.7,"k":"G"},{"B":0.6,"C":0.75,"k":"G"},{"B":0.6,"C":0.8,"k":"G"},{"B":0.6,"C":0.85,"k":"G"},{"B":0.6,"C":0.9,"k":"G"},{"B":0.6,"C":0.95,"k":"Y"},
{"B":0.55,"C":0.05,"k":"G"},{"B":0.55,"C":0.1,"k":"G"},{"B":0.55,"C":0.15,"k":"G"},{"B":0.55,"C":0.2,"k":"G"},{"B":0.55,"C":0.25,"k":"G"},{"B":0.55,"C":0.3,"k":"G"},{"B":0.55,"C":0.35,"k":"G"},{"B":0.55,"C":0.4,"k":"G"},{"B":0.55,"C":0.45,"k":"G"},{"B":0.55,"C":0.5,"k":"G"},{"B":0.55,"C":0.55,"k":"G"},{"B":0.55,"C":0.6,"k":"G"},{"B":0.55,"C":0.65,"k":"G"},{"B":0.55,"C":0.7,"k":"G"},{"B":0.55,"C":0.75,"k":"G"},{"B":0.55,"C":0.8,"k":"G"},{"B":0.55,"C":0.85,"k":"G"},{"B":0.55,"C":0.9,"k":"G"},{"B":0.55,"C":0.95,"k":"Y"},
{"B":0.5,"C":0.05,"k":"G"},{"B":0.5,"C":0.1,"k":"G"},{"B":0.5,"C":0.15,"k":"G"},{"B":0.5,"C":0.2,"k":"G"},{"B":0.5,"C":0.25,"k":"G"},{"B":0.5,"C":0.3,"k":"G"},{"B":0.5,"C":0.35,"k":"G"},{"B":0.5,"C":0.4,"k":"G"},{"B":0.5,"C":0.45,"k":"G"},{"B":0.5,"C":0.5,"k":"G"},{"B":0.5,"C":0.55,"k":"G"},{"B":0.5,"C":0.6,"k":"G"},{"B":0.5,"C":0.65,"k":"G"},{"B":0.5,"C":0.7,"k":"G"},{"B":0.5,"C":0.75,"k":"G"},{"B":0.5,"C":0.8,"k":"G"},{"B":0.5,"C":0.85,"k":"G"},{"B":0.5,"C":0.9,"k":"G"},{"B":0.5,"C":0.95,"k":"O"},
{"B":0.45,"C":0.05,"k":"G"},{"B":0.45,"C":0.1,"k":"G"},{"B":0.45,"C":0.15,"k":"G"},{"B":0.45,"C":0.2,"k":"G"},{"B":0.45,"C":0.25,"k":"G"},{"B":0.45,"C":0.3,"k":"G"},{"B":0.45,"C":0.35,"k":"G"},{"B":0.45,"C":0.4,"k":"G"},{"B":0.45,"C":0.45,"k":"G"},{"B":0.45,"C":0.5,"k":"G"},{"B":0.45,"C":0.55,"k":"G"},{"B":0.45,"C":0.6,"k":"G"},{"B":0.45,"C":0.65,"k":"G"},{"B":0.45,"C":0.7,"k":"G"},{"B":0.45,"C":0.75,"k":"G"},{"B":0.45,"C":0.8,"k":"G"},{"B":0.45,"C":0.85,"k":"G"},{"B":0.45,"C":0.9,"k":"G"},{"B":0.45,"C":0.95,"k":"G"},
{"B":0.4,"C":0.05,"k":"G"},{"B":0.4,"C":0.1,"k":"G"},{"B":0.4,"C":0.15,"k":"G"},{"B":0.4,"C":0.2,"k":"G"},{"B":0.4,"C":0.25,"k":"G"},{"B":0.4,"C":0.3,"k":"G"},{"B":0.4,"C":0.35,"k":"G"},{"B":0.4,"C":0.4,"k":"G"},{"B":0.4,"C":0.45,"k":"G"},{"B":0.4,"C":0.5,"k":"G"},{"B":0.4,"C":0.55,"k":"G"},{"B":0.4,"C":0.6,"k":"G"},{"B":0.4,"C":0.65,"k":"G"},{"B":0.4,"C":0.7,"k":"G"},{"B":0.4,"C":0.75,"k":"G"},{"B":0.4,"C":0.8,"k":"G"},{"B":0.4,"C":0.85,"k":"G"},{"B":0.4,"C":0.9,"k":"G"},{"B":0.4,"C":0.95,"k":"G"},
{"B":0.35,"C":0.05,"k":"G"},{"B":0.35,"C":0.1,"k":"G"},{"B":0.35,"C":0.15,"k":"G"},{"B":0.35,"C":0.2,"k":"G"},{"B":0.35,"C":0.25,"k":"G"},{"B":0.35,"C":0.3,"k":"G"},{"B":0.35,"C":0.35,"k":"G"},{"B":0.35,"C":0.4,"k":"G"},{"B":0.35,"C":0.45,"k":"G"},{"B":0.35,"C":0.5,"k":"G"},{"B":0.35,"C":0.55,"k":"G"},{"B":0.35,"C":0.6,"k":"G"},{"B":0.35,"C":0.65,"k":"G"},{"B":0.35,"C":0.7,"k":"G"},{"B":0.35,"C":0.75,"k":"G"},{"B":0.35,"C":0.8,"k":"G"},{"B":0.35,"C":0.85,"k":"G"},{"B":0.35,"C":0.9,"k":"G"},{"B":0.35,"C":0.95,"k":"G"},
{"B":0.3,"C":0.05,"k":"G"},{"B":0.3,"C":0.1,"k":"G"},{"B":0.3,"C":0.15,"k":"G"},{"B":0.3,"C":0.2,"k":"G"},{"B":0.3,"C":0.25,"k":"G"},{"B":0.3,"C":0.3,"k":"G"},{"B":0.3,"C":0.35,"k":"G"},{"B":0.3,"C":0.4,"k":"G"},{"B":0.3,"C":0.45,"k":"G"},{"B":0.3,"C":0.5,"k":"G"},{"B":0.3,"C":0.55,"k":"G"},{"B":0.3,"C":0.6,"k":"G"},{"B":0.3,"C":0.65,"k":"G"},{"B":0.3,"C":0.7,"k":"G"},{"B":0.3,"C":0.75,"k":"G"},{"B":0.3,"C":0.8,"k":"G"},{"B":0.3,"C":0.85,"k":"G"},{"B":0.3,"C":0.9,"k":"G"},{"B":0.3,"C":0.95,"k":"G"},
{"B":0.25,"C":0.05,"k":"G"},{"B":0.25,"C":0.1,"k":"G"},{"B":0.25,"C":0.15,"k":"G"},{"B":0.25,"C":0.2,"k":"G"},{"B":0.25,"C":0.25,"k":"G"},{"B":0.25,"C":0.3,"k":"G"},{"B":0.25,"C":0.35,"k":"G"},{"B":0.25,"C":0.4,"k":"G"},{"B":0.25,"C":0.45,"k":"G"},{"B":0.25,"C":0.5,"k":"G"},{"B":0.25,"C":0.55,"k":"G"},{"B":0.25,"C":0.6,"k":"G"},{"B":0.25,"C":0.65,"k":"G"},{"B":0.25,"C":0.7,"k":"G"},{"B":0.25,"C":0.75,"k":"G"},{"B":0.25,"C":0.8,"k":"G"},{"B":0.25,"C":0.85,"k":"G"},{"B":0.25,"C":0.9,"k":"G"},{"B":0.25,"C":0.95,"k":"G"},
{"B":0.2,"C":0.05,"k":"G"},{"B":0.2,"C":0.1,"k":"G"},{"B":0.2,"C":0.15,"k":"G"},{"B":0.2,"C":0.2,"k":"G"},{"B":0.2,"C":0.25,"k":"G"},{"B":0.2,"C":0.3,"k":"G"},{"B":0.2,"C":0.35,"k":"G"},{"B":0.2,"C":0.4,"k":"G"},{"B":0.2,"C":0.45,"k":"G"},{"B":0.2,"C":0.5,"k":"G"},{"B":0.2,"C":0.55,"k":"G"},{"B":0.2,"C":0.6,"k":"G"},{"B":0.2,"C":0.65,"k":"G"},{"B":0.2,"C":0.7,"k":"G"},{"B":0.2,"C":0.75,"k":"G"},{"B":0.2,"C":0.8,"k":"G"},{"B":0.2,"C":0.85,"k":"G"},{"B":0.2,"C":0.9,"k":"G"},{"B":0.2,"C":0.95,"k":"G"},
{"B":0.15,"C":0.05,"k":"G"},{"B":0.15,"C":0.1,"k":"G"},{"B":0.15,"C":0.15,"k":"G"},{"B":0.15,"C":0.2,"k":"G"},{"B":0.15,"C":0.25,"k":"G"},{"B":0.15,"C":0.3,"k":"G"},{"B":0.15,"C":0.35,"k":"G"},{"B":0.15,"C":0.4,"k":"G"},{"B":0.15,"C":0.45,"k":"G"},{"B":0.15,"C":0.5,"k":"G"},{"B":0.15,"C":0.55,"k":"G"},{"B":0.15,"C":0.6,"k":"G"},{"B":0.15,"C":0.65,"k":"G"},{"B":0.15,"C":0.7,"k":"G"},{"B":0.15,"C":0.75,"k":"G"},{"B":0.15,"C":0.8,"k":"G"},{"B":0.15,"C":0.85,"k":"G"},{"B":0.15,"C":0.9,"k":"G"},{"B":0.15,"C":0.95,"k":"G"},
{"B":0.1,"C":0.05,"k":"G"},{"B":0.1,"C":0.1,"k":"G"},{"B":0.1,"C":0.15,"k":"G"},{"B":0.1,"C":0.2,"k":"G"},{"B":0.1,"C":0.25,"k":"G"},{"B":0.1,"C":0.3,"k":"G"},{"B":0.1,"C":0.35,"k":"G"},{"B":0.1,"C":0.4,"k":"G"},{"B":0.1,"C":0.45,"k":"G"},{"B":0.1,"C":0.5,"k":"G"},{"B":0.1,"C":0.55,"k":"G"},{"B":0.1,"C":0.6,"k":"G"},{"B":0.1,"C":0.65,"k":"G"},{"B":0.1,"C":0.7,"k":"G"},{"B":0.1,"C":0.75,"k":"G"},{"B":0.1,"C":0.8,"k":"G"},{"B":0.1,"C":0.85,"k":"G"},{"B":0.1,"C":0.9,"k":"G"},{"B":0.1,"C":0.95,"k":"G"},
{"B":0.05,"C":0.05,"k":"G"},{"B":0.05,"C":0.1,"k":"G"},{"B":0.05,"C":0.15,"k":"G"},{"B":0.05,"C":0.2,"k":"G"},{"B":0.05,"C":0.25,"k":"G"},{"B":0.05,"C":0.3,"k":"G"},{"B":0.05,"C":0.35,"k":"G"},{"B":0.05,"C":0.4,"k":"G"},{"B":0.05,"C":0.45,"k":"G"},{"B":0.05,"C":0.5,"k":"G"},{"B":0.05,"C":0.55,"k":"G"},{"B":0.05,"C":0.6,"k":"G"},{"B":0.05,"C":0.65,"k":"G"},{"B":0.05,"C":0.7,"k":"G"},{"B":0.05,"C":0.75,"k":"G"},{"B":0.05,"C":0.8,"k":"G"},{"B":0.05,"C":0.85,"k":"G"},{"B":0.05,"C":0.9,"k":"G"},{"B":0.05,"C":0.95,"k":"G"}
]
},
"vconcat":[
{
"width":897,"height":47,
"title":{"text":"A","fontSize":46,"fontWeight":"normal","anchor":"start","frame":"group","dx":-60,"offset":34,"color":"black"},
"data":{"name":"pA"},
"mark":{"type":"rect","stroke":"white","strokeWidth":0.8},
"encoding":{
"x":{"field":"P","type":"ordinal","scale":{"domain":[0.05,0.1,0.15,0.2,0.25,0.3,0.35,0.4,0.45,0.5,0.55,0.6,0.65,0.7,0.75,0.8,0.85,0.9,0.95],"paddingInner":0,"paddingOuter":0},"axis":{"values":[0.05,0.5,0.95],"labelExpr":"replace(datum.label,'0.','.')","title":"P(cause)","offset":3,"labelPadding":2,"titlePadding":4}},
"color":{"field":"k","type":"nominal","scale":{"domain":["G","O","Y","M","B"],"range":["#F7F7F7","#EF7622","#F0E442","#A22A51","#87C6E6"]},"legend":{"title":"Predicted Explanation Preference","orient":"none","legendX":-16,"legendY":916,"direction":"vertical","labelExpr":"datum.label=='G'?'Both agnostic and atheist strategies predict a simplicity preference':datum.label=='O'?'Agnostic predicts a simplicity preference, atheist predicts no preference':datum.label=='Y'?'Agnostic predicts a simplicity preference, atheist predicts a complexity preference':datum.label=='M'?'Agnostic predicts no preference, atheist predicts a complexity preference':'Both agnostic and atheist strategies predict a complexity preference'"}}
}
},
{
"title":{"text":"B","fontSize":46,"fontWeight":"normal","anchor":"start","frame":"group","dx":-60,"offset":24,"color":"black"},
"spacing":0,
"hconcat":[
{"width":47,"height":628,"data":{"values":[{"t":"P(B)"}]},"mark":{"type":"text","angle":270,"fontSize":27.5,"color":"black","dy":4.5},"encoding":{"text":{"field":"t"}}},
{"spacing":13,"vconcat":[
{"spacing":10.5,"hconcat":[
{"spacing":0,"vconcat":[
{"width":242,"height":43,"view":{"stroke":"black","strokeWidth":2.2,"fill":"white"},"data":{"values":[{"lab":"p(A) = 0.05"}]},"mark":{"type":"text","fontSize":22,"color":"#1A1A1A"},"encoding":{"text":{"field":"lab"}}},
{"width":242,"height":242,"data":{"name":"h05"},"mark":{"type":"rect","stroke":"white","strokeWidth":0.8},"encoding":{
"x":{"field":"C","type":"ordinal","scale":{"domain":[0.05,0.1,0.15,0.2,0.25,0.3,0.35,0.4,0.45,0.5,0.55,0.6,0.65,0.7,0.75,0.8,0.85,0.9,0.95],"paddingInner":0,"paddingOuter":0.92},"axis":null},
"y":{"field":"B","type":"ordinal","scale":{"domain":[0.95,0.9,0.85,0.8,0.75,0.7,0.65,0.6,0.55,0.5,0.45,0.4,0.35,0.3,0.25,0.2,0.15,0.1,0.05],"paddingInner":0,"paddingOuter":0.92},"axis":{"values":[0.95,0.5,0.05],"labelExpr":"replace(datum.label,'0.','.')","title":null,"labelPadding":8}},
"color":{"field":"k","type":"nominal","scale":{"domain":["G","O","Y","M","B"],"range":["#F7F7F7","#EF7622","#F0E442","#A22A51","#87C6E6"]}}}}
]},
{"spacing":0,"vconcat":[
{"width":242,"height":43,"view":{"stroke":"black","strokeWidth":2.2,"fill":"white"},"data":{"values":[{"lab":"p(A) = 0.2"}]},"mark":{"type":"text","fontSize":22,"color":"#1A1A1A"},"encoding":{"text":{"field":"lab"}}},
{"width":242,"height":242,"data":{"name":"h20"},"mark":{"type":"rect","stroke":"white","strokeWidth":0.8},"encoding":{
"x":{"field":"C","type":"ordinal","scale":{"domain":[0.05,0.1,0.15,0.2,0.25,0.3,0.35,0.4,0.45,0.5,0.55,0.6,0.65,0.7,0.75,0.8,0.85,0.9,0.95],"paddingInner":0,"paddingOuter":0.92},"axis":null},
"y":{"field":"B","type":"ordinal","scale":{"domain":[0.95,0.9,0.85,0.8,0.75,0.7,0.65,0.6,0.55,0.5,0.45,0.4,0.35,0.3,0.25,0.2,0.15,0.1,0.05],"paddingInner":0,"paddingOuter":0.92},"axis":null},
"color":{"field":"k","type":"nominal","scale":{"domain":["G","O","Y","M","B"],"range":["#F7F7F7","#EF7622","#F0E442","#A22A51","#87C6E6"]}}}}
]},
{"spacing":0,"vconcat":[
{"width":242,"height":43,"view":{"stroke":"black","strokeWidth":2.2,"fill":"white"},"data":{"values":[{"lab":"p(A) = 0.4"}]},"mark":{"type":"text","fontSize":22,"color":"#1A1A1A"},"encoding":{"text":{"field":"lab"}}},
{"width":242,"height":242,"data":{"name":"h40"},"mark":{"type":"rect","stroke":"white","strokeWidth":0.8},"encoding":{
"x":{"field":"C","type":"ordinal","scale":{"domain":[0.05,0.1,0.15,0.2,0.25,0.3,0.35,0.4,0.45,0.5,0.55,0.6,0.65,0.7,0.75,0.8,0.85,0.9,0.95],"paddingInner":0,"paddingOuter":0.92},"axis":null},
"y":{"field":"B","type":"ordinal","scale":{"domain":[0.95,0.9,0.85,0.8,0.75,0.7,0.65,0.6,0.55,0.5,0.45,0.4,0.35,0.3,0.25,0.2,0.15,0.1,0.05],"paddingInner":0,"paddingOuter":0.92},"axis":null},
"color":{"field":"k","type":"nominal","scale":{"domain":["G","O","Y","M","B"],"range":["#F7F7F7","#EF7622","#F0E442","#A22A51","#87C6E6"]}}}}
]}
]},
{"spacing":10.5,"hconcat":[
{"spacing":0,"vconcat":[
{"width":242,"height":43,"view":{"stroke":"black","strokeWidth":2.2,"fill":"white"},"data":{"values":[{"lab":"p(A) = 0.6"}]},"mark":{"type":"text","fontSize":22,"color":"#1A1A1A"},"encoding":{"text":{"field":"lab"}}},
{"width":242,"height":242,"data":{"name":"h60"},"mark":{"type":"rect","stroke":"white","strokeWidth":0.8},"encoding":{
"x":{"field":"C","type":"ordinal","scale":{"domain":[0.05,0.1,0.15,0.2,0.25,0.3,0.35,0.4,0.45,0.5,0.55,0.6,0.65,0.7,0.75,0.8,0.85,0.9,0.95],"paddingInner":0,"paddingOuter":0.92},"axis":{"values":[0.05,0.5,0.95],"labelExpr":"replace(datum.label,'0.','.')","title":null,"labelPadding":3}},
"y":{"field":"B","type":"ordinal","scale":{"domain":[0.95,0.9,0.85,0.8,0.75,0.7,0.65,0.6,0.55,0.5,0.45,0.4,0.35,0.3,0.25,0.2,0.15,0.1,0.05],"paddingInner":0,"paddingOuter":0.92},"axis":{"values":[0.95,0.5,0.05],"labelExpr":"replace(datum.label,'0.','.')","title":null,"labelPadding":8}},
"color":{"field":"k","type":"nominal","scale":{"domain":["G","O","Y","M","B"],"range":["#F7F7F7","#EF7622","#F0E442","#A22A51","#87C6E6"]}}}}
]},
{"spacing":0,"vconcat":[
{"width":242,"height":43,"view":{"stroke":"black","strokeWidth":2.2,"fill":"white"},"data":{"values":[{"lab":"p(A) = 0.8"}]},"mark":{"type":"text","fontSize":22,"color":"#1A1A1A"},"encoding":{"text":{"field":"lab"}}},
{"width":242,"height":242,"data":{"name":"h80"},"mark":{"type":"rect","stroke":"white","strokeWidth":0.8},"encoding":{
"x":{"field":"C","type":"ordinal","scale":{"domain":[0.05,0.1,0.15,0.2,0.25,0.3,0.35,0.4,0.45,0.5,0.55,0.6,0.65,0.7,0.75,0.8,0.85,0.9,0.95],"paddingInner":0,"paddingOuter":0.92},"axis":{"values":[0.05,0.5,0.95],"labelExpr":"replace(datum.label,'0.','.')","title":"P(C)","labelPadding":3,"titlePadding":7}},
"y":{"field":"B","type":"ordinal","scale":{"domain":[0.95,0.9,0.85,0.8,0.75,0.7,0.65,0.6,0.55,0.5,0.45,0.4,0.35,0.3,0.25,0.2,0.15,0.1,0.05],"paddingInner":0,"paddingOuter":0.92},"axis":null},
"color":{"field":"k","type":"nominal","scale":{"domain":["G","O","Y","M","B"],"range":["#F7F7F7","#EF7622","#F0E442","#A22A51","#87C6E6"]}}}}
]},
{"spacing":0,"vconcat":[
{"width":242,"height":43,"view":{"stroke":"black","strokeWidth":2.2,"fill":"white"},"data":{"values":[{"lab":"p(A) = 0.95"}]},"mark":{"type":"text","fontSize":22,"color":"#1A1A1A"},"encoding":{"text":{"field":"lab"}}},
{"width":242,"height":242,"data":{"name":"h95"},"mark":{"type":"rect","stroke":"white","strokeWidth":0.8},"encoding":{
"x":{"field":"C","type":"ordinal","scale":{"domain":[0.05,0.1,0.15,0.2,0.25,0.3,0.35,0.4,0.45,0.5,0.55,0.6,0.65,0.7,0.75,0.8,0.85,0.9,0.95],"paddingInner":0,"paddingOuter":0.92},"axis":{"values":[0.05,0.5,0.95],"labelExpr":"replace(datum.label,'0.','.')","title":null,"labelPadding":3}},
"y":{"field":"B","type":"ordinal","scale":{"domain":[0.95,0.9,0.85,0.8,0.75,0.7,0.65,0.6,0.55,0.5,0.45,0.4,0.35,0.3,0.25,0.2,0.15,0.1,0.05],"paddingInner":0,"paddingOuter":0.92},"axis":null},
"color":{"field":"k","type":"nominal","scale":{"domain":["G","O","Y","M","B"],"range":["#F7F7F7","#EF7622","#F0E442","#A22A51","#87C6E6"]}}}}
]}
]}
]}
]
}
]
}
